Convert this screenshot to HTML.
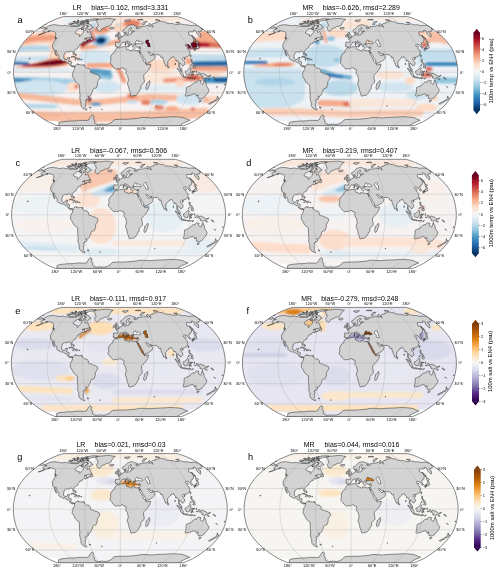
<!DOCTYPE html>
<html><head><meta charset="utf-8"><style>
html,body{margin:0;padding:0;background:#fff;width:500px;height:573px;overflow:hidden}
svg{display:block;will-change:transform}
text{font-family:"Liberation Sans",sans-serif;fill:#000}
.tk{font-size:3.9px}
.tt{font-size:6.95px}
.lt{font-size:9.2px}
.cl{font-size:5.9px}
</style></head><body>
<svg width="500" height="573" viewBox="0 0 500 573">
<defs>
<filter id="bl" x="-20%" y="-20%" width="140%" height="140%"><feGaussianBlur stdDeviation="1.3"/></filter>
<path id="bnd" d="M-63.3 53.5L-66.5 52.2L-72 49.7L-76.9 46.9L-81.3 43.9L-85.5 40.8L-89.3 37.6L-92.9 34.3L-95.9 31L-98.6 27.6L-100.9 24.1L-102.7 20.7L-104.1 17.2L-105.1 13.8L-105.9 10.3L-106.5 6.9L-106.9 3.4L-107 0L-106.9 -3.4L-106.5 -6.9L-105.9 -10.3L-105.1 -13.8L-104.1 -17.2L-102.7 -20.7L-100.9 -24.1L-98.6 -27.6L-95.9 -31L-92.9 -34.3L-89.3 -37.6L-85.5 -40.8L-81.3 -43.9L-76.9 -46.9L-72 -49.7L-66.5 -52.2L-63.9 -53.3L-61.2 -54.3L-59.1 -54.9L-56.9 -55.6L56.9 -55.6L59.1 -54.9L61.2 -54.3L63.9 -53.3L66.5 -52.2L72 -49.7L76.9 -46.9L81.3 -43.9L85.5 -40.8L89.3 -37.6L92.9 -34.3L95.9 -31L98.6 -27.6L100.9 -24.1L102.7 -20.7L104.1 -17.2L105.1 -13.8L105.9 -10.3L106.5 -6.9L106.9 -3.4L107 0L106.9 3.4L106.5 6.9L105.9 10.3L105.1 13.8L104.1 17.2L102.7 20.7L100.9 24.1L98.6 27.6L95.9 31L92.9 34.3L89.3 37.6L85.5 40.8L81.3 43.9L76.9 46.9L72 49.7L66.5 52.2L63.3 53.5Z"/>
<clipPath id="clp"><use href="#bnd"/></clipPath>
<path id="land" d="M-61.8 54.1L-61.6 50.6L-58.6 49.6L-51.6 48.9L-43.6 48.6L-41.6 48.1L-33.6 48.3L-31.6 47.6L-30.6 45.6L-29.1 43.4L-27.6 43L-26.4 44.1L-27.4 46.1L-26.1 48.1L-25.6 51.1L-22.6 52.4L-18.6 51.9L-14.6 52.3L-11.6 51.6L-8.6 50.1L-6.8 47.9L-5.6 47.4L0 47.1L6.4 47.1L11.4 46.7L16.4 46.3L21.4 45.3L26.4 45.4L31.4 45.8L36.4 45.3L41.4 45.1L46.4 44.9L51.4 44.5L56.4 44.7L61.4 45.1L64.4 45.9L66.4 46.9L69.4 48.1L63.4 50.6L57.9 54.1ZM-75.4 -44.3L-71.8 -46.2L-69.4 -47.1L-67.6 -47.3L-65.9 -47.6L-64.3 -47.3L-63.1 -47.1L-61.9 -47L-60.5 -46.7L-58.8 -46.3L-57.1 -46.6L-55.1 -46.9L-53.7 -46.6L-51.8 -46.3L-50 -46L-48.1 -45.7L-46.2 -45.9L-44.7 -45.6L-42.9 -45.6L-41.2 -46.6L-39.3 -48L-39.1 -47.2L-38.5 -46.3L-37.4 -46L-36.1 -46.6L-35.6 -46L-36 -45.1L-37.9 -44.7L-39.5 -43.6L-41.1 -43.3L-43.3 -42.1L-45.3 -40.2L-44.9 -38.9L-43.3 -38.3L-42.1 -37.8L-40.9 -37.6L-41.3 -36.3L-40.8 -35.3L-39.8 -36.3L-39.2 -37.6L-37.2 -39.6L-36.8 -41.2L-35.9 -42.4L-33.9 -42.2L-32.9 -41.5L-33.2 -39.9L-32.2 -39.9L-30.8 -41L-30.1 -39.2L-29.7 -38L-28.9 -36.6L-28.6 -35.3L-29.7 -35.1L-30.9 -34.5L-33 -34.5L-34.7 -34L-36.3 -33L-34.3 -33.7L-33.5 -33.5L-34.1 -32.7L-33.8 -31.8L-32.4 -31.4L-31.8 -31.6L-31.8 -32.3L-32.6 -31.6L-33.4 -31.4L-34.3 -31.2L-33.9 -30.7L-35.3 -30L-35.3 -30.6L-35.8 -30.8L-37.5 -30.2L-38.2 -29.3L-38 -28.7L-38.9 -28.5L-40.4 -28L-40.6 -27.2L-41.3 -26.7L-42.2 -25.5L-42.3 -24.3L-43.5 -23.6L-44.6 -22.9L-46 -21.7L-46.4 -20.7L-46.2 -19.3L-46.1 -18.3L-46.5 -17.4L-47.2 -17.9L-47.4 -19.3L-47.6 -20.3L-48.2 -20.7L-49 -21L-50.1 -21L-51 -20.8L-51.2 -20L-52 -20.2L-53.4 -20.5L-54.3 -20.1L-55.7 -19.2L-56.2 -17.9L-56.7 -16.5L-56.7 -15.2L-56.7 -14.1L-56.1 -13.1L-55.3 -12.5L-53.8 -12.8L-53.2 -13.1L-52.7 -14.5L-50.7 -14.8L-51.2 -13.1L-51.8 -12.1L-52 -11L-50.5 -10.9L-49 -10.3L-49.3 -8.3L-49.5 -7.6L-48.6 -6.2L-47.4 -6.4L-45.9 -5.9L-45.8 -5.4L-46.3 -5.2L-46.5 -5.7L-47.1 -6.1L-47.7 -5L-48.6 -5.7L-50 -6.5L-50.7 -6.9L-50.7 -7.7L-51.6 -9L-52.5 -9.3L-53.9 -9.7L-54.7 -10.7L-55.5 -11.2L-56.7 -10.8L-57.6 -11.2L-58.7 -11.7L-59.5 -12.3L-60.6 -12.6L-61.6 -13.8L-61.3 -14.8L-61.5 -15.9L-62.4 -17.4L-63.1 -18.3L-63.7 -19.3L-64 -21.7L-65.1 -21.9L-65.2 -20L-64.5 -18.3L-63.7 -16.5L-63.6 -15.9L-64.1 -16.4L-64.8 -17.1L-65.3 -18.5L-65.7 -19.3L-65.7 -20.7L-66.1 -21.9L-66.2 -22.4L-66.6 -23.4L-67.7 -23.8L-67.9 -25.2L-67.8 -26.1L-68 -27.2L-67.9 -27.9L-67.3 -28.9L-66.4 -30.3L-65.6 -31.8L-65 -33.3L-64.1 -33.3L-63.9 -33.7L-64.2 -34.7L-65.3 -35L-64.8 -36L-65 -37L-64.7 -38L-64.7 -38.6L-65 -39.6L-65.7 -39.9L-66.4 -40.7L-67.9 -40.8L-68.8 -41.3L-70.2 -41.1L-71.5 -40.5L-72.6 -40.3L-70.6 -41.6L-72.6 -40.8L-73.9 -40.1L-75.7 -39.2L-77.9 -38.4L-80.4 -37.6L-82.2 -37.2L-80 -38L-77.2 -39.2L-75.7 -40L-76.8 -40.1L-77 -40.8L-77.5 -41.3L-76.7 -42.4L-75.6 -42.9L-73.2 -43.5L-74.4 -43.7L-75.5 -43.7L-75.4 -44.3ZM-45.8 -5.4L-45.6 -5.9L-44.6 -7.2L-43.7 -7.7L-42.5 -8.5L-42.1 -8.1L-42.3 -7.2L-41.4 -7.9L-40.2 -7.3L-39 -7.3L-37.8 -7.4L-36.7 -7.4L-36.1 -6.9L-36.4 -6.2L-35.5 -5.9L-34.7 -4.8L-33.8 -4.1L-32.6 -4.1L-31.4 -3.9L-30.6 -3L-29.7 -1.2L-30 0L-28.8 0.7L-27.3 0.7L-26.1 1.7L-24.6 2L-23.2 2.4L-22.1 3.3L-21.1 3.6L-20.7 4.8L-20.7 6.2L-21.3 6.9L-22.1 8.3L-22.9 9.3L-22.9 11L-23.1 12.4L-23.6 14.1L-24.3 15.7L-25 15.9L-25.8 16.1L-26.9 16.5L-27.7 17.6L-27.8 19.3L-28.3 20L-29 21.4L-29.6 22.8L-30.1 23.4L-30.8 24.1L-31.9 24.1L-32.7 23.8L-31.7 25.2L-31.8 26.2L-32.5 26.7L-34.1 26.9L-34 27.9L-35.4 28.2L-34.6 29.3L-34.6 31L-35.6 32L-34.6 32.7L-35.2 34.7L-35.1 35.7L-34.5 36.3L-33.4 37.3L-33.9 38L-34.7 37.6L-36 37L-37.7 36L-39 34.3L-39.5 32.3L-39.4 31L-39.6 29.6L-40.1 28.9L-40.4 27.2L-40.8 25.5L-40.5 24.5L-40.4 22.8L-40.8 20.7L-40.8 19L-40.9 16.5L-41 13.8L-41.2 12.6L-42.2 11.9L-43.5 11L-44.9 9.7L-45.5 8.3L-46.5 6.5L-47.4 4.8L-48.2 4.1L-48.1 3.1L-47.7 2.3L-48.1 1.4L-47.7 0.3L-47.5 -0.7L-46.9 -1L-46.8 -1.7L-46 -2.8L-45.8 -4.5L-46.2 -5.2L-45.8 -5.4ZM-3.3 -24.7L-1.1 -24.2L0.6 -25.2L2.8 -25.4L5.4 -25.7L6.1 -25.5L5.7 -24.8L6.2 -24.5L5.6 -23.6L6.4 -22.9L8.5 -22.3L10.8 -20.9L11.4 -21.4L11.4 -22.3L12.4 -22.6L14.2 -21.9L16.5 -21.3L17.6 -21.7L18.4 -21.5L18.6 -20.6L19.2 -19L20.3 -16.5L21.6 -14.5L22.6 -12.4L23.2 -10.7L24.5 -9.3L25.6 -8.6L26 -7.2L26.6 -7.2L28.4 -7.7L30.2 -8.1L30.2 -7.2L29.4 -4.5L28.5 -3.1L27.3 -1.4L25.9 0.3L24.7 1.4L23.8 2.4L23.2 3.4L23.3 4.8L23.4 6.9L23.9 7.6L23.8 10.3L21.7 12.1L20.4 13.8L20.6 15.2L20.6 16.5L19.1 17.6L18.9 18.6L18.3 20L17.3 21.4L15.8 22.8L14.3 23.4L12.7 23.4L11.2 24L10.4 23.6L10.2 22.4L9.7 20.3L8.9 18.6L8.4 15.9L7.9 14.1L6.9 11.7L7.4 9.7L8 7.9L7.7 6.2L7.2 4.1L7.1 3.1L5.9 2.1L5.3 0.7L5.6 -0.7L5.8 -2.1L5.2 -3L4.2 -3L3.6 -3L2.7 -4.3L1.2 -4.3L-0.6 -3.4L-1.2 -3.3L-2.7 -3.6L-4.5 -3L-5.6 -3.8L-6.8 -4.8L-7.7 -5.7L-8 -6.5L-8.9 -7.6L-9.9 -8.6L-10.3 -10.1L-9.7 -11.4L-9.5 -13.1L-9.9 -14.5L-9.3 -16.2L-8.4 -17.9L-7.5 -19.1L-5.7 -20L-5.6 -21L-5.3 -22.4L-3.9 -23.4L-3.3 -24.7ZM-3.1 -24.8L-3.5 -25.4L-4.2 -25.6L-4.9 -25.5L-4.8 -26.7L-5.2 -26.7L-4.9 -28.2L-4.8 -29.3L-5 -29.7L-4.3 -30.1L-2.2 -29.9L-0.8 -29.9L-0.6 -30.6L-0.6 -31.6L-1.3 -32.5L-2.4 -33L-1.6 -33.5L-0.8 -33.5L-0.7 -34.1L0.1 -34L0.8 -34.9L1.5 -35.2L2 -35.6L2.4 -36.3L3.5 -36.6L4.3 -37L4.3 -38L4 -38.6L4.1 -39L5.1 -39.4L5.1 -38.6L5 -37.6L5.5 -37L6.5 -37.1L7.3 -36.9L8.2 -37.3L9.2 -37.4L10 -37.3L10.5 -38L10.3 -38.8L10.7 -39.3L11.8 -39.1L11.3 -39.9L11.5 -40.4L13.4 -40.5L14.2 -40.8L13.5 -41.2L12.3 -41.1L10.9 -40.8L10.1 -41.5L9.9 -42.4L10.7 -43.3L11.4 -43.9L11.4 -44.3L9.9 -44.4L9.7 -44.1L8.9 -43L8.1 -42.4L8.1 -41.5L8.9 -40.8L8.2 -40L8.1 -38.6L7.2 -38L6.4 -38L6.2 -38.5L5.6 -39.6L5.3 -40.2L4.8 -40.2L3.9 -39.6L2.9 -39.8L2.5 -40.5L2.4 -41.5L2.4 -42.3L3.2 -42.7L4.3 -43.2L5 -43.8L5.6 -44.5L6.2 -45.4L7 -46L7.7 -46.6L9 -46.9L10.1 -47.3L11 -47.5L12 -47.5L13.2 -47.1L14.2 -46.5L15.6 -46.3L17.5 -45.6L18.3 -44.8L17 -44.5L15.5 -44.9L15.8 -43.6L16.9 -43.3L18.1 -43.7L19.7 -44.5L19.4 -45.8L20.1 -45.7L21 -45.6L23 -46L23.8 -45.8L25.1 -46.2L25.9 -46.8L27.6 -46.5L29.1 -46L29.9 -45.8L28.8 -46.6L28.2 -47.3L28.3 -48.3L28.7 -48.7L30 -48.3L30.6 -47.5L31.5 -46L32.7 -44.8L32.6 -45.7L31.8 -46.3L31.2 -47.5L31.9 -48L32.6 -48.2L32.9 -48.8L33.9 -48.8L35.1 -49.1L34.8 -49.7L35.7 -49.9L37 -50.2L38.4 -50.3L38.8 -50.7L39.9 -51.1L41.5 -50.7L41.8 -50.3L43.3 -50.5L44.9 -50.1L45.8 -49.1L48.2 -48.8L50.1 -48.6L51.6 -48.8L53.4 -48.3L55 -47.5L56.2 -47.7L58.3 -47.7L58.1 -48.5L60.6 -48.2L62.9 -47.7L64.5 -47.3L66.6 -47.5L67.9 -47.2L69.7 -46.7L71.7 -46.7L72.6 -46.9L74 -46.8L75.4 -46.8L77.9 -46.2L81.2 -44L80.3 -43.7L82.3 -42.7L81.5 -42.4L80.9 -41.8L80.7 -40.8L78.8 -40.8L77.8 -40.7L78.3 -39.6L80.2 -38.3L79.8 -38.4L80.2 -37.6L80.7 -36.3L80.2 -36L80.2 -35L78.7 -36.3L76.5 -38.3L76 -39.2L76 -39.9L75.6 -41.2L74.4 -41.8L72.9 -41.8L73.4 -40.5L72.2 -40.3L70.7 -40.4L68.3 -40.4L68 -39.4L68.5 -37.3L70.6 -36.6L71.8 -35.7L72.5 -34.3L73.3 -33L73.1 -32L72.9 -30.3L71.7 -29.5L70.8 -29.3L70.6 -28.2L70.9 -27.6L70.4 -26.9L71.9 -25.5L72.4 -24.3L71.3 -23.9L70.8 -24.1L70.3 -25.5L69.4 -26.2L68.5 -27.4L66.7 -27.9L66 -28.2L65.5 -27.4L64.9 -26.9L65 -26.4L66 -25.6L66.8 -26.1L68 -25.5L67.2 -24.8L66.8 -24.1L68 -22.8L69.1 -21.9L69.4 -21.2L69.4 -20.3L69.7 -19.5L69.1 -18.3L68.8 -17.2L67.9 -16.2L66.6 -15.4L65.2 -15L64.4 -14.6L64.2 -14L63.9 -14.8L62.9 -14.8L62.1 -14L61.9 -13.1L62.8 -11.7L64 -10.5L64.5 -8.6L64.4 -7.8L63.3 -7.2L62.3 -5.9L62 -6.9L60.9 -7.4L60.2 -8.5L59.5 -9.3L58.7 -7.2L59.1 -6.2L59.6 -5L60.2 -4.7L60.8 -4.1L61.4 -3.1L61.5 -1.7L61.9 -1L61.5 -0.9L60 -1.9L59.5 -3.8L58.2 -5.5L58.3 -6.9L58.2 -9L57.3 -11.4L56.6 -11.7L55.5 -11L55.2 -12.8L54.3 -13.7L53.6 -14.8L53.2 -15.7L52.6 -15.2L51.8 -15L50.7 -14.8L50.6 -14L49.7 -13.4L48.4 -11.7L47.2 -10.7L47.3 -9L47.2 -7.1L46.4 -6.1L45.9 -5.6L45.3 -6.1L44.6 -7.9L43.9 -9.7L43.2 -11L42.6 -13.1L42.4 -14.5L42.2 -15L41.1 -14.3L40.1 -15.4L40.7 -15.7L39.7 -16.2L38.8 -17.1L38.4 -17.5L35.8 -17.4L33.8 -17.6L33.1 -17.8L32.4 -18.8L31.1 -18.4L29.6 -19.2L28.9 -20.3L27.7 -20.7L27.5 -20L28.5 -18.6L28.9 -18.1L29.8 -16.8L30.4 -16.7L31.6 -16.8L32.3 -17.6L32.5 -18.1L32.7 -16.9L33.9 -16.3L34.8 -15.5L34.1 -14.1L33.8 -13.1L33.1 -12.4L32.3 -11.7L30.7 -10.8L28.9 -9.7L26.8 -9L25.7 -8.8L25.2 -10L25 -11.4L24 -13.1L22.7 -14.8L22.3 -16.4L21.1 -17.9L20.2 -19.3L19.9 -20.3L19.7 -19.2L19.2 -19.6L18.6 -20.6L18.4 -21.5L19.4 -21.6L19.7 -22.4L20 -23.4L20.1 -24.5L20 -25.4L19.2 -25.4L18.1 -24.9L17 -25L15.7 -25.4L15.1 -25.8L14.6 -26.5L14.4 -27.2L14.6 -27.8L15.8 -28.3L14.2 -28.1L13.1 -28.1L12.6 -27.8L12.4 -27.6L12.8 -26.9L13.3 -26.3L12.8 -25.8L12.5 -25.1L12.1 -25.4L11.7 -26.1L11.9 -26.5L11.1 -27.2L10.6 -27.9L10.6 -28.8L10 -29.3L8.6 -30L8 -30.6L7.3 -31.3L6.5 -31.2L6.6 -30.4L7.3 -30L7.8 -29.1L8.7 -28.5L10.1 -27.7L9.4 -27.9L9.1 -27.4L9.4 -26.9L8.8 -26.2L8.6 -26.3L8.8 -27.2L8.5 -27.6L7.6 -28.1L6.8 -28.6L5.9 -29.3L5.5 -30.2L4.7 -30.6L4 -30.2L3.2 -29.7L2.4 -30L1.6 -29.6L1.7 -28.9L1.1 -28.4L0.4 -28L0 -27.2L-0.2 -26.5L-0.4 -25.9L-1.1 -25.3L-2.5 -25.3L-3.1 -24.8ZM-77.9 -46.2L-76.9 -45.4L-76.1 -45.1L-75.8 -44.7L-77 -44.2L-78.3 -43.6L-79.5 -43.9L-80.2 -44.2L-81.2 -44ZM-24.8 -51.7L-22.9 -52.6L-20.7 -53L-19.2 -53.1L-17.7 -53.3L-16.5 -53.4L-15.2 -53.5L-14 -53.7L-12.8 -53.7L-11.6 -53.7L-10.5 -53.7L-9.4 -53.5L-8.3 -53.3L-7.2 -53L-6.1 -52.9L-5 -52.8L-6.8 -51.7L-7.4 -50.7L-8 -49.7L-9.1 -48.3L-9.3 -47.2L-11.3 -46L-12.6 -45.9L-14 -45.7L-15.6 -44.5L-18.1 -43.9L-19.5 -42.1L-20.7 -40.8L-22.1 -41.3L-23.2 -42.4L-23.4 -43.6L-23.8 -44.8L-23 -46L-21.8 -46.9L-22.8 -47.5L-22.8 -48.3L-23 -49.4L-23.6 -50.2L-24.3 -50.9L-24.8 -51.7ZM66 15.2L65.8 17.9L65.6 20.7L64.7 23.4L65.6 24.1L67.4 23.4L69.5 23.4L71.3 22.3L73.2 21.8L74.4 21.7L75.7 22.5L76 24L76.4 23.8L77.8 22.6L77.2 24.1L77.9 24.7L77.7 26.2L79 26.7L80.1 26.4L80.6 26.9L81.9 26.1L83.1 25.8L84.7 23.8L85.5 22.8L87 21.4L88.1 19.3L88.5 17.2L87.6 16.2L87 15.2L85.9 13.3L85.7 11.7L85.6 10.3L84.5 9.7L84.3 7.4L83.6 8.6L83.3 10.3L82.5 12.1L81.8 12.1L80.8 11L79.7 10.3L80.7 8.5L79.7 8.3L78.3 7.9L77.3 8.4L76.7 9L76.2 10.3L75.1 9.7L73.9 10L72.8 11.4L71.8 12.1L71.1 13.1L69.5 13.8L67.9 14.3L66.6 15L66 15.2ZM-10.8 -44.2L-9.8 -44.8L-8 -44.7L-6.7 -44.8L-6.1 -44.1L-6.6 -43.6L-8.3 -42.9L-9.6 -43.2L-10.3 -43.3L-10.8 -44.2ZM-31.1 -32.7L-29 -34L-28.3 -35.4L-27.7 -34L-27.6 -32.7L-28.2 -32.1L-29.2 -32.3L-31.1 -32.7ZM-49.5 -15.1L-48.2 -15.8L-46.4 -15.9L-44.8 -14.9L-43.2 -13.9L-45.3 -13.7L-45.7 -14.8L-47.1 -15L-47.7 -15.4L-48.9 -15ZM-43.6 -12.7L-42.5 -13.7L-40.9 -13.6L-40 -12.8L-41 -12.5L-41.9 -12.1L-43.6 -12.7ZM-45.8 -12.7L-44.7 -12.5L-45 -12.3L-45.7 -12.5ZM-39.3 -12.8L-38.4 -12.7L-38.5 -12.4L-39.4 -12.4ZM-64.3 -33.2L-65 -33.5L-65.8 -34.9L-65.2 -34.8L-64.5 -34.3L-64.3 -33.2ZM-32.8 -49L-31.9 -48.3L-30.9 -47.9L-29.7 -47.2L-29 -46.9L-28.9 -46.3L-28.3 -45.1L-27.2 -44.9L-28.7 -43.9L-29.5 -43.6L-29.7 -42.8L-30.5 -42.1L-31.4 -42.6L-32.6 -43L-33.6 -43.7L-35.2 -43.5L-35 -44.2L-32.1 -45.4L-32.1 -45.7L-32.2 -46.6L-33.3 -46.9L-35 -46.9L-36.1 -47.2L-37.4 -47.3L-37.3 -48L-35.1 -48.8L-33.3 -49ZM-43.1 -47.2L-44.9 -46.3L-46.8 -46.2L-48 -46.3L-49.1 -46.4L-50.1 -47.2L-49.9 -47.7L-48.2 -48.5L-46.4 -48.6L-45.1 -48.7L-43.7 -48.8L-42.9 -48.6L-42.5 -48ZM-50.3 -47.7L-52 -47.9L-50.9 -49.1L-48.8 -49.3L-47.2 -48.8L-48.6 -48.1ZM-34.4 -51.2L-32.6 -52.4L-31.1 -52.7L-29.7 -53.1L-28.2 -53.4L-27 -53.4L-25.8 -53.4L-24.6 -53.5L-23.3 -53.3L-22 -53.2L-23.3 -52.6L-24.6 -52.3L-26.1 -52L-28.4 -51.5L-31.3 -50.4L-33.2 -50.4ZM-32.2 -49.5L-33.4 -49.5L-34.6 -49.5L-35.8 -49.5L-37 -49.5L-38.1 -49.9L-36.5 -50.7L-35.3 -50.7L-34.1 -50.7L-33 -50.7L-31.6 -50.3ZM-37.5 -48L-39.6 -48L-38.8 -49L-36.6 -49.1ZM-40.2 -47.7L-42.1 -48L-41.2 -48.8L-39.4 -49ZM-42 -49.7L-43.8 -49.5L-45.5 -49.4L-46.7 -49.8L-45 -50.4L-43.6 -50.4L-42.2 -50.4ZM-33.6 -51.2L-34.6 -51.5L-35.7 -51.7L-35.2 -52.4L-33.1 -52.6L-31.8 -52.2ZM-42.6 -46L-41.2 -46.6L-41.7 -46.8L-43 -46.3ZM-38.5 -49.9L-39.9 -50.1L-38.9 -50.6L-37.9 -50.5ZM-37.3 -49.6L-38.5 -49.6L-37.7 -50L-37.1 -49.9ZM-32.1 -48.6L-33.2 -48.7L-32.5 -49L-31.4 -48.9ZM-45.2 -50.3L-47.3 -50.2L-47.7 -50.6L-45.4 -51ZM-38 -42.4L-38.8 -42.6L-38.1 -42.9ZM-43.5 -51L-41.4 -51.1L-41.8 -51.4ZM-42.5 -51.4L-41.5 -51.6L-42.9 -51.7ZM-39.2 -51.3L-37.9 -51.5L-37.8 -51.8ZM-37.1 -51.2L-36.3 -51.3L-36.3 -51.7ZM-36.7 -50.9L-36.1 -51L-36.8 -51.1ZM-42 -49.7L-41.4 -49.8L-41.6 -50ZM-40.3 -49L-39.7 -49.1L-40.3 -49.2ZM-33.9 -46.6L-33.4 -46.8L-34 -46.9ZM-33.4 -45.4L-32.4 -45.6L-32.7 -45.8ZM-37.2 -42.1L-36.7 -42.2L-37.1 -42.4ZM-43 -48.7L-42.4 -48.9L-43 -48.9ZM-40.2 -50.2L-40.8 -50.3L-40.2 -50.5ZM-40.6 -50.8L-40 -51L-40.7 -51ZM-36.7 -43L-39.1 -42.8L-39.5 -43.6L-38.1 -44.4L-36.8 -43.6ZM-2.9 -34.4L-1.5 -34.7L0 -34.9L0.7 -35.2L0.9 -36.1L0.2 -36.6L-0.2 -37.3L-0.8 -38L-1.2 -38.5L-0.9 -39.3L-1.7 -39.4L-1.4 -39.9L-2.4 -39.9L-2.7 -38.9L-2.9 -38.6L-2.7 -38L-2.5 -37.5L-1.6 -37.6L-1.5 -36.8L-1.5 -36.5L-2.3 -36.4L-2.1 -36L-2.6 -35.5L-1.8 -35.3L-2.1 -35.1L-2.9 -34.4ZM-3 -35.8L-3.1 -37L-2.8 -37.5L-3.6 -37.8L-4.2 -37.6L-4.2 -37.2L-5 -37.1L-4.9 -36.6L-4.8 -36.1L-5.2 -35.6L-4.8 -35.3L-4.1 -35.5L-3.2 -35.8ZM73.6 -23.4L74.3 -23.4L75 -23.6L75.8 -23.9L76.3 -23.1L76.9 -23.6L77.9 -23.9L78.3 -24.1L78.7 -24.6L78.2 -25.4L78.1 -26.4L78 -27.2L76.9 -28.5L76.4 -28.1L76.7 -27.4L76.9 -26.5L76.7 -25.8L76.1 -25.5L75.7 -25.6L75.9 -24.7L74.4 -24.5L73.8 -23.9ZM76.1 -28.6L76.5 -28.8L77.6 -28.9L78.3 -29.7L77.7 -30.3L75.4 -31.3L75.8 -30.3L75.5 -29.7ZM73.2 -22.9L73.7 -23.4L74.4 -22.8L74.6 -21.6L74.3 -21.4L73.6 -22.4ZM74.7 -22.9L75 -23.6L75.7 -23.6L75.8 -23.1L75.1 -22.6ZM75.2 -31.6L75.7 -32L74.3 -33.7L75 -33.7L73.3 -35L71.8 -36.6L71.2 -37.2L71.4 -36.6L72.3 -35.3L74.2 -33L74.8 -32ZM69.7 -15.9L69.9 -17.4L70.6 -17.2L70.5 -15.9L70.3 -15.1ZM63.5 -13.2L64.5 -13.9L64.9 -13.5L64.4 -12.6L63.6 -12.8ZM70.6 -12.8L71.5 -12.8L71.6 -11.4L71.4 -10.7L71.9 -9.7L73.1 -9L72.9 -8.7L71.3 -9.5L71 -10L70.5 -11.2ZM72.3 -4.8L73.2 -5.4L73.7 -5.9L74.3 -6.7L75 -5.2L74.7 -4.1L74.2 -4L73.5 -4.5ZM72.1 -7.2L73 -7.9L73.8 -8.5L74.3 -7.6L73.7 -6.9L72.8 -6.5ZM69.4 -5.8L70.7 -7.2L70.8 -7.8L70.1 -6.5ZM56.5 -3.9L57.9 -3.6L59.4 -1.7L61.7 0L62.1 1L63 2.1L62.8 4L62 4.1L60.6 2.8L59.7 0.7L58.5 -1.2ZM62.4 4.7L62.9 4.1L64.3 4.4L65.5 4.8L66.7 4.8L67.9 5.3L67.7 6L65.8 5.7L64 5.4L63.1 5.1ZM64.8 -1L65.2 -1.4L66 -1.2L67.1 -2.2L68.5 -3.7L69.4 -4.8L70.7 -3.7L70.1 -3L70.4 -0.7L69.8 0L69.2 1.7L68.9 2.6L68 2.8L66.2 2.3L65.5 2L65.4 1L64.8 0.3ZM70.9 3.8L71.4 3.8L71.6 2.1L71.9 1.8L72.7 3.3L73 3.1L72.5 2.1L72.2 1.2L73.2 0.6L72.2 0.6L71.6 -0.3L74 -0.3L74.4 -1L73.9 -0.8L71.6 -0.8L71.2 0L70.7 2.1ZM75.8 -1.2L76.4 -1L76.1 -0.3L76.4 0.6L75.8 0.2ZM76 2.3L77.7 2.4L77.2 2.6L76.2 2.6ZM77.8 0.9L78.8 0.3L79.6 0.6L80.5 2.3L81.7 1L83.8 1.8L85.8 2.6L86.6 3.8L87.5 4.1L87.6 5.5L88.5 6.5L89 7.2L87.6 7L86.7 6.2L85.3 5.4L84.7 6.2L83.5 6.3L82.4 5.5L81.7 5.8L81.8 3.8L80.2 3L79 2.8L78.4 1.9ZM88 3.8L89 3.6L90 2.9L90.4 3L89.9 3.8L89 4.3L88.1 4.1ZM92.8 4.8L94.5 5.9L95.6 6.9L94.9 7.1L93 5.9ZM73.4 6.4L74 5.9L75.2 5.8L74 6.6L73.4 7ZM68.3 5.8L69 5.7L70.5 5.8L71.7 5.8L72.7 5.7L72.5 6.1L70.5 6.1L68.7 6.1ZM47.4 -4.3L47.3 -5.5L47.3 -6.8L48.1 -5.9L48.6 -4.8L48.1 -4.1ZM29.1 8.3L29.7 10.7L29.2 11.7L28.3 14.1L27.5 16.5L26 17.6L25.3 16.2L25.4 14.5L26 13.4L25.8 11.7L27.3 10.8L28.3 9.3ZM79 28L80.8 28.2L80.1 29.3L78.9 30L78.6 29.3ZM97 23.7L97.3 24.8L97.5 25.8L98.8 26L97.6 27.1L96.4 27.9L95.1 28.6L95.7 27.4L95.6 27L96.7 25.8ZM94.4 27.9L94.8 28.5L93.5 29.6L92.6 30.2L91.4 30.6L89.4 32.1L88.1 31.6L89 31L90.3 30.3L91.9 29.6L93.4 28.6ZM95.7 13.9L97.1 15.4L96.8 15.4L95.7 14.3ZM103.9 12.1L104.7 11.9L104.5 12.5L103.8 12.5ZM4.1 -51.6L5.2 -52.1L7 -52.2L8.4 -52.4L10 -52.2L9.1 -51.5L8.5 -51L7 -50.5L5.8 -50.8ZM21.8 -47.7L22 -48.6L22.4 -49.4L23.3 -50.1L24.9 -50.6L26.6 -50.7L26 -50.1L24.6 -49.4L23.9 -48.5L23.8 -47.5L23.3 -47.2ZM35.7 -51.7L37.2 -52L39.4 -51.7L36.3 -52.6L34.8 -52.4ZM55.2 -49.7L56.4 -49.9L57.7 -49.9L59 -49.8L58.1 -49.5L57.2 -49.1ZM-75.7 -47.5L-74.4 -47.7L-75.1 -47.8ZM16.9 -52.4L18 -52.4L19.2 -52.3L20.3 -52.2L21.5 -52.3L22.7 -52.4L20.9 -52.8L19.5 -52.7L18.2 -52.6ZM6.9 -26.2L8.6 -26.4L8.4 -25.3L6.9 -25.9ZM4.6 -26.9L4.5 -28.2L5.2 -28.4L5.3 -27ZM4.7 -28.6L4.6 -29.5L5.1 -29.6L5.2 -28.6ZM13.2 -24.3L14.7 -24.3L14.6 -24.1L13.4 -24.1ZM18.1 -24.1L19.3 -24.6L19.1 -23.9L18.2 -23.9ZM-91 -14.1L-90.4 -14L-90.6 -13.1L-91.2 -13.4ZM-31.3 35.1L-29.6 35.2L-29.7 35.8L-31 35.7ZM-19 37L-18 37L-18.2 37.3ZM35.9 33.5L36.6 33.7L35.9 34.1ZM54.6 -7.9L54.8 -9.1L54.9 -8.3L54.9 -7.3ZM-45.2 -18.4L-44.4 -18.3L-44 -16.9L-45.1 -16.5ZM-36.6 -7L-36.1 -7.4L-36 -7Z"/>
<path id="bsea" d="M15.2 -28.6L15.9 -28.4L17.1 -28.4L18.2 -28.9L19.3 -28.7L20.4 -28.2L21.5 -28.2L22.5 -28.6L22.6 -29.3L21.5 -30L20.3 -30.6L19.9 -31.2L19.4 -31.1L18.9 -30.8L17.9 -30.6L17.3 -31.2L17.8 -31.6L16.6 -32.1L16.1 -31.8L15.7 -31.1L15.4 -30.5L15.1 -29.6L15.2 -28.6Z"/>
<path id="casp" d="M25.1 -30.6L25.2 -29.6L25.7 -28.9L26.8 -27.9L27.1 -27.7L27 -26.5L27.2 -25.8L28 -25.5L29.9 -25.5L29.4 -26.9L29 -27.9L29.7 -28.2L28.6 -28.9L28.3 -29.6L27.5 -30.6L28.2 -31.1L28 -32.1L26.8 -32.3L26 -32L25.2 -31.4L25.1 -30.6Z"/>
<path id="nod" d="M57.9 54.6L69.4 48.1L72.4 46.6L81.4 46.6L81.4 55.1ZM-61.8 54.6L-61.6 50.6L-64.6 48.9L-78.6 48.9L-78.6 55.1ZM-54.7 -46.9L-53.6 -46.6L-52.4 -46.3L-51.3 -46L-50.1 -45.9L-48.8 -45.8L-47.6 -45.7L-46.4 -45.6L-45.2 -45.5L-43.9 -45.4L-42.6 -45.5L-41.2 -45.5L-39.9 -45.6L-38.5 -45.7L-37.1 -45.7L-34.2 -46.9L-31.2 -48L-28 -49.7L-27.5 -51.2L-25.7 -51.7L-24 -52.2L-22 -53.3L-23.1 -53.3L-24.2 -53.3L-25.2 -53.3L-26.3 -53.3L-27.4 -53.4L-28.5 -53.4L-29.5 -53.4L-30.6 -53.4L-31.7 -53.5L-33 -53.3L-34.4 -53L-35.8 -52.8L-37.3 -52.6L-38.7 -52.4L-40.2 -52.2L-41.7 -52L-43.2 -51.7L-44.9 -51.4L-46.7 -51L-48.5 -50.7L-51.9 -49.1Z"/>
<path id="grd" d="M-38 55.6L-40.8 54.3L-44.3 52.2L-48 49.7L-51.3 46.9L-54.2 43.9L-57 40.8L-59.6 37.6L-61.9 34.3L-63.9 31L-65.7 27.6L-67.2 24.1L-68.5 20.7L-69.4 17.2L-70.1 13.8L-70.6 10.3L-71 6.9L-71.2 3.4L-71.3 0L-71.2 -3.4L-71 -6.9L-70.6 -10.3L-70.1 -13.8L-69.4 -17.2L-68.5 -20.7L-67.2 -24.1L-65.7 -27.6L-63.9 -31L-61.9 -34.3L-59.6 -37.6L-57 -40.8L-54.2 -43.9L-51.3 -46.9L-48 -49.7L-44.3 -52.2L-40.8 -54.3L-38 -55.6M-19 55.6L-20.4 54.3L-22.2 52.2L-24 49.7L-25.6 46.9L-27.1 43.9L-28.5 40.8L-29.8 37.6L-31 34.3L-32 31L-32.9 27.6L-33.6 24.1L-34.2 20.7L-34.7 17.2L-35 13.8L-35.3 10.3L-35.5 6.9L-35.6 3.4L-35.7 0L-35.6 -3.4L-35.5 -6.9L-35.3 -10.3L-35 -13.8L-34.7 -17.2L-34.2 -20.7L-33.6 -24.1L-32.9 -27.6L-32 -31L-31 -34.3L-29.8 -37.6L-28.5 -40.8L-27.1 -43.9L-25.6 -46.9L-24 -49.7L-22.2 -52.2L-20.4 -54.3L-19 -55.6M0 55.6L0 54.3L0 52.2L0 49.7L0 46.9L0 43.9L0 40.8L0 37.6L0 34.3L0 31L0 27.6L0 24.1L0 20.7L0 17.2L0 13.8L0 10.3L0 6.9L0 3.4L0 0L0 -3.4L0 -6.9L0 -10.3L0 -13.8L0 -17.2L0 -20.7L0 -24.1L0 -27.6L0 -31L0 -34.3L0 -37.6L0 -40.8L0 -43.9L0 -46.9L0 -49.7L0 -52.2L0 -54.3L0 -55.6M19 55.6L20.4 54.3L22.2 52.2L24 49.7L25.6 46.9L27.1 43.9L28.5 40.8L29.8 37.6L31 34.3L32 31L32.9 27.6L33.6 24.1L34.2 20.7L34.7 17.2L35 13.8L35.3 10.3L35.5 6.9L35.6 3.4L35.7 0L35.6 -3.4L35.5 -6.9L35.3 -10.3L35 -13.8L34.7 -17.2L34.2 -20.7L33.6 -24.1L32.9 -27.6L32 -31L31 -34.3L29.8 -37.6L28.5 -40.8L27.1 -43.9L25.6 -46.9L24 -49.7L22.2 -52.2L20.4 -54.3L19 -55.6M38 55.6L40.8 54.3L44.3 52.2L48 49.7L51.3 46.9L54.2 43.9L57 40.8L59.6 37.6L61.9 34.3L63.9 31L65.7 27.6L67.2 24.1L68.5 20.7L69.4 17.2L70.1 13.8L70.6 10.3L71 6.9L71.2 3.4L71.3 0L71.2 -3.4L71 -6.9L70.6 -10.3L70.1 -13.8L69.4 -17.2L68.5 -20.7L67.2 -24.1L65.7 -27.6L63.9 -31L61.9 -34.3L59.6 -37.6L57 -40.8L54.2 -43.9L51.3 -46.9L48 -49.7L44.3 -52.2L40.8 -54.3L38 -55.6M-85.5 40.8L-80.7 40.8L-76 40.8L-71.2 40.8L-66.5 40.8L-61.7 40.8L-57 40.8L-52.2 40.8L-47.5 40.8L-42.7 40.8L-38 40.8L-33.2 40.8L-28.5 40.8L-23.7 40.8L-19 40.8L-14.2 40.8L-9.5 40.8L-4.7 40.8L0 40.8L4.7 40.8L9.5 40.8L14.2 40.8L19 40.8L23.7 40.8L28.5 40.8L33.2 40.8L38 40.8L42.7 40.8L47.5 40.8L52.2 40.8L57 40.8L61.7 40.8L66.5 40.8L71.2 40.8L76 40.8L80.7 40.8L85.5 40.8M-102.7 20.7L-97 20.7L-91.3 20.7L-85.6 20.7L-79.9 20.7L-74.2 20.7L-68.5 20.7L-62.8 20.7L-57.1 20.7L-51.4 20.7L-45.7 20.7L-39.9 20.7L-34.2 20.7L-28.5 20.7L-22.8 20.7L-17.1 20.7L-11.4 20.7L-5.7 20.7L0 20.7L5.7 20.7L11.4 20.7L17.1 20.7L22.8 20.7L28.5 20.7L34.2 20.7L39.9 20.7L45.7 20.7L51.4 20.7L57.1 20.7L62.8 20.7L68.5 20.7L74.2 20.7L79.9 20.7L85.6 20.7L91.3 20.7L97 20.7L102.7 20.7M-107 0L-101.1 0L-95.1 0L-89.2 0L-83.2 0L-77.3 0L-71.3 0L-65.4 0L-59.4 0L-53.5 0L-47.6 0L-41.6 0L-35.7 0L-29.7 0L-23.8 0L-17.8 0L-11.9 0L-5.9 0L0 0L5.9 0L11.9 0L17.8 0L23.8 0L29.7 0L35.7 0L41.6 0L47.6 0L53.5 0L59.4 0L65.4 0L71.3 0L77.3 0L83.2 0L89.2 0L95.1 0L101.1 0L107 0M-102.7 -20.7L-97 -20.7L-91.3 -20.7L-85.6 -20.7L-79.9 -20.7L-74.2 -20.7L-68.5 -20.7L-62.8 -20.7L-57.1 -20.7L-51.4 -20.7L-45.7 -20.7L-39.9 -20.7L-34.2 -20.7L-28.5 -20.7L-22.8 -20.7L-17.1 -20.7L-11.4 -20.7L-5.7 -20.7L0 -20.7L5.7 -20.7L11.4 -20.7L17.1 -20.7L22.8 -20.7L28.5 -20.7L34.2 -20.7L39.9 -20.7L45.7 -20.7L51.4 -20.7L57.1 -20.7L62.8 -20.7L68.5 -20.7L74.2 -20.7L79.9 -20.7L85.6 -20.7L91.3 -20.7L97 -20.7L102.7 -20.7M-85.5 -40.8L-80.7 -40.8L-76 -40.8L-71.2 -40.8L-66.5 -40.8L-61.7 -40.8L-57 -40.8L-52.2 -40.8L-47.5 -40.8L-42.7 -40.8L-38 -40.8L-33.2 -40.8L-28.5 -40.8L-23.7 -40.8L-19 -40.8L-14.2 -40.8L-9.5 -40.8L-4.7 -40.8L0 -40.8L4.7 -40.8L9.5 -40.8L14.2 -40.8L19 -40.8L23.7 -40.8L28.5 -40.8L33.2 -40.8L38 -40.8L42.7 -40.8L47.5 -40.8L52.2 -40.8L57 -40.8L61.7 -40.8L66.5 -40.8L71.2 -40.8L76 -40.8L80.7 -40.8L85.5 -40.8"/>
</defs>
<g transform="translate(120.5 72.2)">
<use href="#bnd" fill="#f7f2f1"/>
<g clip-path="url(#clp)">
<g filter="url(#bl)">
<path d="M-100.5 -31.2L-85.5 -33.7L-65.5 -35.2" fill="none" stroke="#fcd5bf" stroke-width="12" stroke-linecap="round" stroke-linejoin="round"/>
<path d="M-100.5 -31.2L-85.5 -33.7L-68.5 -34.7" fill="none" stroke="#f19e7d" stroke-width="6" stroke-linecap="round" stroke-linejoin="round"/>
<ellipse cx="-74.5" cy="-39.2" rx="6" ry="2.5" fill="#fbccb4"/>
<path d="M-105.5 -23.2L-85.5 -24.2L-68.5 -23.7" fill="none" stroke="#b1d5e7" stroke-width="5" stroke-linecap="round" stroke-linejoin="round"/>
<path d="M-69.5 -28.2L-67.5 -18.2L-62.5 -11.2" fill="none" stroke="#fcd5bf" stroke-width="4" stroke-linecap="round" stroke-linejoin="round"/>
<path d="M-106.5 -12.7L-80.5 -13.7L-58.5 -14.2" fill="none" stroke="#cae1ee" stroke-width="5" stroke-linecap="round" stroke-linejoin="round"/>
<path d="M-106.5 -9.2L-92.5 -8.4" fill="none" stroke="#2065ab" stroke-width="3" stroke-linecap="round" stroke-linejoin="round"/>
<ellipse cx="-62.5" cy="-16.2" rx="10" ry="5" fill="#fddbc7"/>
<path d="M-104.5 -5.7L-90.5 -7.7L-80.5 -10.7L-70.5 -13.7L-60.5 -14.7L-53.5 -13.7L-48.5 -10.2L-54.5 -6.4L-70.5 -4.4L-85.5 -4L-104.5 -4.4Z" fill="#f5aa89"/>
<path d="M-98.5 -6.4L-85.5 -8.6L-75.5 -11.2L-65.5 -13L-58.5 -13L-53.5 -11.4L-52 -9.7L-58.5 -7.4L-70.5 -6L-85.5 -5.6L-98.5 -5.6Z" fill="#b1182b"/>
<path d="M-92.5 -6.8L-80.5 -9L-70.5 -11.4L-62.5 -12L-57.5 -11.4L-55.5 -9.9L-60.5 -8L-70.5 -7L-80.5 -6.6L-92.5 -6.2Z" fill="#67001f"/>
<path d="M-106.5 -2.2L-50.5 -2.2" fill="none" stroke="#dae9f2" stroke-width="3" stroke-linecap="round" stroke-linejoin="round"/>
<path d="M-106.5 7.8L-85.5 7.8L-47.5 9.8" fill="none" stroke="#a2cde3" stroke-width="6" stroke-linecap="round" stroke-linejoin="round"/>
<path d="M-106.5 7.8L-90.5 8.3" fill="none" stroke="#3a87bd" stroke-width="3.5" stroke-linecap="round" stroke-linejoin="round"/>
<ellipse cx="-80.5" cy="15.8" rx="28" ry="8" fill="#d1e5f0"/>
<path d="M-102.5 23.3L-75.5 26.3L-45.5 29.8L-25.5 30.3L-0.5 27.8L29.5 24.8L59.5 25.8L89.5 27.8" fill="none" stroke="#f6b394" stroke-width="6" stroke-linecap="round" stroke-linejoin="round" opacity="0.9"/>
<path d="M-95.5 33.8L-65.5 34.3" fill="none" stroke="#b1d5e7" stroke-width="4" stroke-linecap="round" stroke-linejoin="round"/>
<path d="M-90.5 43.8L-60.5 44.8L-20.5 44.8L29.5 43.8L84.5 40.8" fill="none" stroke="#f8bfa4" stroke-width="10" stroke-linecap="round" stroke-linejoin="round"/>
<path d="M-80.5 42.8L-60.5 43.3" fill="none" stroke="#f6b394" stroke-width="3" stroke-linecap="round" stroke-linejoin="round"/>
<ellipse cx="-18.5" cy="-42.2" rx="9" ry="4" fill="#f5aa89" transform="rotate(-10 -18.5 -42.2)"/>
<path d="M-30.5 -43.2L-28.5 -38.2L-25.5 -34.2" fill="none" stroke="#e48066" stroke-width="2.5" stroke-linecap="round" stroke-linejoin="round"/>
<path d="M-27.5 -43.2L-20.5 -43.7L-14.5 -42.2" fill="none" stroke="#e48066" stroke-width="3" stroke-linecap="round" stroke-linejoin="round"/>
<ellipse cx="-28.5" cy="-47.2" rx="4" ry="3" fill="#c2ddec"/>
<ellipse cx="-1.5" cy="-45.2" rx="6" ry="5" fill="#fcd5bf"/>
<ellipse cx="-2.5" cy="-47.2" rx="2" ry="1.5" fill="#c2ddec"/>
<ellipse cx="-25.5" cy="-15.2" rx="18" ry="7" fill="#d4e6f1"/>
<path d="M-38.5 -24.2L-25.5 -25.7L-10.5 -28.7L-1.5 -31.2" fill="none" stroke="#f5aa89" stroke-width="4" stroke-linecap="round" stroke-linejoin="round"/>
<ellipse cx="-19.5" cy="-31.7" rx="9" ry="6" fill="#a2cde3" transform="rotate(-10 -19.5 -31.7)"/>
<ellipse cx="-19.5" cy="-31.7" rx="5.5" ry="3.8" fill="#1a5899" transform="rotate(-10 -19.5 -31.7)"/>
<ellipse cx="-19.5" cy="-31.7" rx="3.5" ry="2.4" fill="#053061" transform="rotate(-10 -19.5 -31.7)"/>
<path d="M-38.5 -26.7L-34.5 -29.7L-30.5 -31.7L-26.5 -32.7" fill="none" stroke="#b1182b" stroke-width="3.5" stroke-linecap="round" stroke-linejoin="round"/>
<path d="M-37.5 -27.4L-34 -30L-30.5 -31.6" fill="none" stroke="#67001f" stroke-width="2" stroke-linecap="round" stroke-linejoin="round"/>
<path d="M-32.5 -6.7L-15.5 -7.2L-0.5 -6.2" fill="none" stroke="#f3a481" stroke-width="4.5" stroke-linecap="round" stroke-linejoin="round"/>
<path d="M-2.5 -4.2L0.5 1.8L3.5 8.8" fill="none" stroke="#ec9374" stroke-width="4" stroke-linecap="round" stroke-linejoin="round"/>
<path d="M-28.5 -2.2L-10.5 -0.2" fill="none" stroke="#4393c3" stroke-width="3" stroke-linecap="round" stroke-linejoin="round"/>
<path d="M-30.5 0.3L-20.5 2.8L-10.5 3.8" fill="none" stroke="#569fc9" stroke-width="5" stroke-linecap="round" stroke-linejoin="round"/>
<path d="M-20.5 4.3L-12.5 4.8" fill="none" stroke="#2a71b2" stroke-width="3" stroke-linecap="round" stroke-linejoin="round"/>
<path d="M-24.5 3.8L-10.5 5.8" fill="none" stroke="#90c4dd" stroke-width="4" stroke-linecap="round" stroke-linejoin="round"/>
<ellipse cx="-41.5" cy="-39.2" rx="4" ry="3" fill="#fbe6da"/>
<ellipse cx="-45.5" cy="-15.2" rx="5" ry="2.5" fill="#fdddcb"/>
<ellipse cx="11.5" cy="-48.2" rx="10" ry="4" fill="#f5aa89" opacity="0.9"/>
<path d="M-25.5 -53.2L59.5 -53.2" fill="none" stroke="#fce2d2" stroke-width="3" stroke-linecap="round" stroke-linejoin="round"/>
<ellipse cx="-45.5" cy="-51.2" rx="14" ry="3" fill="#e7f0f4"/>
<ellipse cx="11.5" cy="-49.2" rx="8" ry="3.5" fill="#e48066"/>
<ellipse cx="-13.5" cy="14.8" rx="14" ry="6" fill="#d1e5f0"/>
<ellipse cx="-31" cy="27.3" rx="1.8" ry="2.6" fill="#67001f"/>
<ellipse cx="-24.5" cy="31.8" rx="5.5" ry="1.6" fill="#4393c3"/>
<ellipse cx="-47.5" cy="14.8" rx="6" ry="5" fill="#fddbc7"/>
<ellipse cx="-44" cy="14.3" rx="2" ry="2" fill="#dd7059"/>
<ellipse cx="39.5" cy="-6.2" rx="18" ry="6" fill="#fddbc7"/>
<ellipse cx="27.5" cy="-7.2" rx="2" ry="1.5" fill="#d6604d"/>
<ellipse cx="52.5" cy="-9.2" rx="5" ry="5" fill="#fbccb4"/>
<ellipse cx="42.5" cy="5.8" rx="20" ry="6" fill="#fbe6da"/>
<path d="M44.5 8.3L64.5 7.3L84.5 5.8" fill="none" stroke="#ec9374" stroke-width="4" stroke-linecap="round" stroke-linejoin="round"/>
<path d="M19.5 15.8L64.5 15.8" fill="none" stroke="#e0ecf3" stroke-width="6" stroke-linecap="round" stroke-linejoin="round"/>
<ellipse cx="11.5" cy="23.8" rx="5" ry="2.5" fill="#e48066"/>
<ellipse cx="11.5" cy="29.8" rx="5" ry="1.8" fill="#c2ddec"/>
<ellipse cx="25.5" cy="30.3" rx="5" ry="2.5" fill="#e48066"/>
<ellipse cx="38.5" cy="29.8" rx="9" ry="2.5" fill="#b1d5e7"/>
<ellipse cx="38.5" cy="35.3" rx="5" ry="2.2" fill="#e48066"/>
<ellipse cx="51.5" cy="36.3" rx="7" ry="2.5" fill="#f5aa89"/>
<path d="M69.5 -34.7L99.5 -33.2" fill="none" stroke="#f3a481" stroke-width="9" stroke-linecap="round" stroke-linejoin="round"/>
<ellipse cx="85.5" cy="-33.2" rx="15" ry="8" fill="#f5aa89"/>
<path d="M78.5 -27.7L91.5 -27.2L101.5 -26.7" fill="none" stroke="#dd7059" stroke-width="5" stroke-linecap="round" stroke-linejoin="round"/>
<path d="M78.5 -27.7L87.5 -27.4" fill="none" stroke="#b1182b" stroke-width="4" stroke-linecap="round" stroke-linejoin="round"/>
<path d="M66.5 -30.2L72.5 -31.7L78.5 -30.7L81 -28.2L79 -24.2L72.5 -23.2L66.5 -25.2Z" fill="#9f1228"/>
<path d="M67.5 -29.7L72.5 -30.7L77.5 -29.7L79 -27.7L77 -25.2L72.5 -24.4L67.5 -25.7Z" fill="#67001f"/>
<ellipse cx="68.5" cy="-25.7" rx="2.5" ry="2.5" fill="#67001f"/>
<ellipse cx="73.5" cy="-37.7" rx="5.5" ry="4" fill="#f8f3f0"/>
<path d="M72.5 -14.7L105.5 -14.7" fill="none" stroke="#c2ddec" stroke-width="6" stroke-linecap="round" stroke-linejoin="round"/>
<path d="M74.5 -8.2L106.5 -8.7" fill="none" stroke="#4393c3" stroke-width="6" stroke-linecap="round" stroke-linejoin="round"/>
<path d="M74.5 -8.2L106.5 -8.7" fill="none" stroke="#1a5899" stroke-width="3" stroke-linecap="round" stroke-linejoin="round"/>
<path d="M72.5 -3.4L106.5 -3.4" fill="none" stroke="#f19e7d" stroke-width="4.5" stroke-linecap="round" stroke-linejoin="round"/>
<ellipse cx="68" cy="-11.2" rx="3" ry="3.5" fill="#f3a481"/>
<ellipse cx="72.5" cy="5.3" rx="7" ry="3" fill="#d6604d"/>
<ellipse cx="59.5" cy="10.8" rx="5" ry="4" fill="#fcd5bf"/>
<path d="M85.5 7.8L105.5 7.8" fill="none" stroke="#4393c3" stroke-width="6" stroke-linecap="round" stroke-linejoin="round"/>
<path d="M95.5 7.8L105.5 7.8" fill="none" stroke="#1a5899" stroke-width="4" stroke-linecap="round" stroke-linejoin="round"/>
<ellipse cx="94.5" cy="1.3" rx="9" ry="3" fill="#fddbc7"/>
<ellipse cx="69.5" cy="26.8" rx="14" ry="6" fill="#d1e5f0"/>
<ellipse cx="92.5" cy="26.8" rx="5" ry="3.5" fill="#fcd5bf"/>
<ellipse cx="72.5" cy="36.8" rx="2.5" ry="1.5" fill="#dd7059"/>
<ellipse cx="-29" cy="-47" rx="4" ry="5" fill="#c2ddec"/>
</g>
<use href="#nod" fill="#fff"/>
<use href="#land" fill="#d3d3d3" stroke="#111" stroke-width="0.45" stroke-linejoin="round"/>
<use href="#bsea" fill="#f7f6f6" stroke="#111" stroke-width="0.45"/>
<use href="#casp" fill="#67001f" stroke="#111" stroke-width="0.45"/>
<use href="#grd" fill="none" stroke="#999" stroke-opacity="0.6" stroke-width="0.45"/>
</g>
<use href="#bnd" fill="none" stroke="#3a3a3a" stroke-width="0.6"/>
</g>
<text x="63.5" y="14.6" class="tk" text-anchor="middle">180°</text>
<text x="57.1" y="130.2" class="tk" text-anchor="middle">180°</text>
<text x="82.5" y="14.6" class="tk" text-anchor="middle">120°W</text>
<text x="78.2" y="130.2" class="tk" text-anchor="middle">120°W</text>
<text x="101.5" y="14.6" class="tk" text-anchor="middle">60°W</text>
<text x="99.3" y="130.2" class="tk" text-anchor="middle">60°W</text>
<text x="120.5" y="14.6" class="tk" text-anchor="middle">0°</text>
<text x="120.5" y="130.2" class="tk" text-anchor="middle">0°</text>
<text x="139.4" y="14.6" class="tk" text-anchor="middle">60°E</text>
<text x="141.6" y="130.2" class="tk" text-anchor="middle">60°E</text>
<text x="158.4" y="14.6" class="tk" text-anchor="middle">120°E</text>
<text x="162.7" y="130.2" class="tk" text-anchor="middle">120°E</text>
<text x="177.4" y="14.6" class="tk" text-anchor="middle">180°</text>
<text x="183.8" y="130.2" class="tk" text-anchor="middle">180°</text>
<text x="34.2" y="32.8" class="tk" text-anchor="end">60°N</text>
<text x="206.7" y="32.8" class="tk" text-anchor="start">60°N</text>
<text x="15.5" y="52.9" class="tk" text-anchor="end">30°N</text>
<text x="225.4" y="52.9" class="tk" text-anchor="start">30°N</text>
<text x="11.3" y="73.6" class="tk" text-anchor="end">0°</text>
<text x="229.6" y="73.6" class="tk" text-anchor="start">0°</text>
<text x="15.5" y="94.3" class="tk" text-anchor="end">30°S</text>
<text x="225.4" y="94.3" class="tk" text-anchor="start">30°S</text>
<text x="34.2" y="114.4" class="tk" text-anchor="end">60°S</text>
<text x="206.7" y="114.4" class="tk" text-anchor="start">60°S</text>
<text x="72.7" y="9.9" class="tt">LR</text>
<text x="91.3" y="9.9" class="tt">bias=-0.162, rmsd=3.331</text>
<text x="17.5" y="22.9" class="lt">a</text>
<g transform="translate(350.7 72.2)">
<use href="#bnd" fill="#eef2f6"/>
<g clip-path="url(#clp)">
<g filter="url(#bl)">
<path d="M-114.7 -4.2L-50.7 -4.2L-44.7 7.8L-46.7 27.8L-60.7 34.8L-80.7 35.8L-100.7 34.8L-114.7 27.8Z" fill="#cae1ee"/>
<ellipse cx="-75.7" cy="9.8" rx="20" ry="4" fill="#b1d5e7"/>
<path d="M-98.7 -34.2L-82.7 -35.7L-65.7 -36.2" fill="none" stroke="#fddbc7" stroke-width="9" stroke-linecap="round" stroke-linejoin="round"/>
<path d="M-104.7 -18.2L-85.7 -19.2L-67.7 -19.2" fill="none" stroke="#cae1ee" stroke-width="9" stroke-linecap="round" stroke-linejoin="round"/>
<path d="M-105.7 -9.7L-84.7 -9.7" fill="none" stroke="#2a71b2" stroke-width="3" stroke-linecap="round" stroke-linejoin="round"/>
<path d="M-97.7 -6.7L-85.7 -8.2L-72.7 -9.7L-60.7 -9.7L-54.7 -8.2L-60.7 -5.7L-72.7 -5.2L-85.7 -5.4L-97.7 -5.7Z" fill="#f3a481"/>
<ellipse cx="-68.7" cy="-7.6" rx="9" ry="1.5" fill="#e48066"/>
<path d="M-105.7 -2.2L-50.7 -2.2" fill="none" stroke="#d1e5f0" stroke-width="3" stroke-linecap="round" stroke-linejoin="round"/>
<ellipse cx="-27.7" cy="-47.2" rx="4" ry="3" fill="#c2ddec"/>
<path d="M-27.7 -43.2L-25.7 -36.2L-24.7 -30.2" fill="none" stroke="#f3a481" stroke-width="2.5" stroke-linecap="round" stroke-linejoin="round"/>
<ellipse cx="-12.7" cy="-39.2" rx="10" ry="5" fill="#fddbc7"/>
<ellipse cx="-19.7" cy="-33.7" rx="4" ry="2.5" fill="#90c4dd"/>
<ellipse cx="-33.7" cy="-29.7" rx="3" ry="1.5" fill="#569fc9"/>
<ellipse cx="-25.7" cy="-16.2" rx="22" ry="11" fill="#c2ddec"/>
<ellipse cx="-13.7" cy="-12.2" rx="3.5" ry="1.2" fill="#7eb8d7"/>
<path d="M-28.7 -1.2L-15.7 3.3L-0.7 5.3" fill="none" stroke="#6bacd1" stroke-width="4" stroke-linecap="round" stroke-linejoin="round"/>
<path d="M-22.7 2.8L-8.7 4.8" fill="none" stroke="#2065ab" stroke-width="2.5" stroke-linecap="round" stroke-linejoin="round"/>
<ellipse cx="-0.7" cy="-47.2" rx="7" ry="4" fill="#fce2d2"/>
<path d="M-50.7 -53.2L69.3 -53.2" fill="none" stroke="#fae9df" stroke-width="3" stroke-linecap="round" stroke-linejoin="round"/>
<ellipse cx="11.3" cy="-48.2" rx="9" ry="4" fill="#fce2d2"/>
<ellipse cx="39.3" cy="2.8" rx="15" ry="4" fill="#fce2d2"/>
<ellipse cx="44.3" cy="14.8" rx="18" ry="5" fill="#d1e5f0"/>
<ellipse cx="-10.7" cy="15.8" rx="18" ry="8" fill="#bbdaea"/>
<path d="M-29.7 30.8L-10.7 31.3L7.3 32.3" fill="none" stroke="#f5aa89" stroke-width="6" stroke-linecap="round" stroke-linejoin="round"/>
<ellipse cx="-3.7" cy="31.8" rx="4" ry="1.8" fill="#d6604d"/>
<path d="M2.3 30.8L62.3 30.8" fill="none" stroke="#fbe6da" stroke-width="8" stroke-linecap="round" stroke-linejoin="round"/>
<path d="M-85.7 39.8L-50.7 39.8L-0.7 41.8L69.3 40.8" fill="none" stroke="#fbccb4" stroke-width="7" stroke-linecap="round" stroke-linejoin="round"/>
<path d="M70.3 -35.2L100.3 -34.2" fill="none" stroke="#f8bfa4" stroke-width="12" stroke-linecap="round" stroke-linejoin="round"/>
<ellipse cx="74.3" cy="-36.7" rx="6" ry="3" fill="#fddbc7"/>
<ellipse cx="73.8" cy="-27.2" rx="2.5" ry="2.5" fill="#d6604d"/>
<ellipse cx="85.3" cy="-28.7" rx="6" ry="1" fill="#f7f6f6"/>
<path d="M72.3 -17.2L104.3 -17.2" fill="none" stroke="#c2ddec" stroke-width="12" stroke-linecap="round" stroke-linejoin="round"/>
<path d="M76.3 -8.2L106.3 -8.2" fill="none" stroke="#3a87bd" stroke-width="4" stroke-linecap="round" stroke-linejoin="round"/>
<ellipse cx="78.3" cy="-3.2" rx="3.5" ry="2" fill="#d6604d"/>
<ellipse cx="68.3" cy="-10.2" rx="2.5" ry="3" fill="#d1e5f0"/>
<ellipse cx="76.3" cy="2.8" rx="6" ry="2.5" fill="#dd7059"/>
<ellipse cx="59.3" cy="8.3" rx="5" ry="4" fill="#fddbc7"/>
<path d="M87.3 8.3L105.3 8.3" fill="none" stroke="#90c4dd" stroke-width="6" stroke-linecap="round" stroke-linejoin="round"/>
<ellipse cx="83.3" cy="25.8" rx="4" ry="3" fill="#fddbc7"/>
<ellipse cx="67.3" cy="22.8" rx="12" ry="5" fill="#d1e5f0"/>
<ellipse cx="76.3" cy="35.3" rx="11" ry="4" fill="#fddbc7"/>
<ellipse cx="-29" cy="-47" rx="4" ry="5" fill="#c2ddec"/>
</g>
<use href="#nod" fill="#fff"/>
<use href="#land" fill="#d3d3d3" stroke="#111" stroke-width="0.45" stroke-linejoin="round"/>
<use href="#bsea" fill="#fddbc7" stroke="#111" stroke-width="0.45"/>
<use href="#casp" fill="#ffffff" stroke="#111" stroke-width="0.45"/>
<use href="#grd" fill="none" stroke="#999" stroke-opacity="0.6" stroke-width="0.45"/>
</g>
<use href="#bnd" fill="none" stroke="#3a3a3a" stroke-width="0.6"/>
</g>
<text x="293.8" y="14.6" class="tk" text-anchor="middle">180°</text>
<text x="287.4" y="130.2" class="tk" text-anchor="middle">180°</text>
<text x="312.7" y="14.6" class="tk" text-anchor="middle">120°W</text>
<text x="308.5" y="130.2" class="tk" text-anchor="middle">120°W</text>
<text x="331.7" y="14.6" class="tk" text-anchor="middle">60°W</text>
<text x="329.6" y="130.2" class="tk" text-anchor="middle">60°W</text>
<text x="350.7" y="14.6" class="tk" text-anchor="middle">0°</text>
<text x="350.7" y="130.2" class="tk" text-anchor="middle">0°</text>
<text x="369.7" y="14.6" class="tk" text-anchor="middle">60°E</text>
<text x="371.8" y="130.2" class="tk" text-anchor="middle">60°E</text>
<text x="388.7" y="14.6" class="tk" text-anchor="middle">120°E</text>
<text x="392.9" y="130.2" class="tk" text-anchor="middle">120°E</text>
<text x="407.6" y="14.6" class="tk" text-anchor="middle">180°</text>
<text x="414" y="130.2" class="tk" text-anchor="middle">180°</text>
<text x="264.4" y="32.8" class="tk" text-anchor="end">60°N</text>
<text x="437" y="32.8" class="tk" text-anchor="start">60°N</text>
<text x="245.8" y="52.9" class="tk" text-anchor="end">30°N</text>
<text x="455.6" y="52.9" class="tk" text-anchor="start">30°N</text>
<text x="241.5" y="73.6" class="tk" text-anchor="end">0°</text>
<text x="459.9" y="73.6" class="tk" text-anchor="start">0°</text>
<text x="245.8" y="94.3" class="tk" text-anchor="end">30°S</text>
<text x="455.6" y="94.3" class="tk" text-anchor="start">30°S</text>
<text x="264.4" y="114.4" class="tk" text-anchor="end">60°S</text>
<text x="437" y="114.4" class="tk" text-anchor="start">60°S</text>
<text x="302.5" y="9.9" class="tt">MR</text>
<text x="322.7" y="9.9" class="tt">bias=-0.626, rmsd=2.289</text>
<text x="247.7" y="22.9" class="lt">b</text>
<g transform="translate(118.6 214.9)">
<use href="#bnd" fill="#f4f4f5"/>
<g clip-path="url(#clp)">
<g filter="url(#bl)">
<path d="M-64.6 -51.9L61.4 -51.9" fill="none" stroke="#fbe6da" stroke-width="5" stroke-linecap="round" stroke-linejoin="round"/>
<ellipse cx="-83.6" cy="-32.9" rx="22" ry="10" fill="#f9efe9"/>
<ellipse cx="-78.6" cy="-9.9" rx="30" ry="9" fill="#edf2f5"/>
<ellipse cx="-73.6" cy="10.1" rx="30" ry="7" fill="#f8f1ed"/>
<path d="M-98.6 30.1L-68.6 32.1L-43.6 34.1" fill="none" stroke="#e0ecf3" stroke-width="8" stroke-linecap="round" stroke-linejoin="round"/>
<path d="M-91.6 33.1L-64.6 34.1" fill="none" stroke="#c5dfec" stroke-width="3" stroke-linecap="round" stroke-linejoin="round"/>
<path d="M-34.6 -41.9L-23.6 -44.9L-10.6 -46.9L-1.6 -44.9L-2.6 -34.9L-10.6 -31.9L-20.6 -28.9L-30.6 -24.9L-36.6 -22.9L-38.6 -28.9Z" fill="#fac8af"/>
<ellipse cx="-30.6" cy="-14.9" rx="12" ry="8" fill="#fce2d2"/>
<path d="M-4.6 -31.9L-4.6 -21.9L-13.6 -18.9L-23.6 -18.9L-28.6 -20.9L-18.6 -25.9Z" fill="#cae1ee"/>
<path d="M-4.6 -29.9L-4.6 -23.4L-10.6 -22.9L-15.6 -24.4L-10.6 -26.9Z" fill="#569fc9"/>
<ellipse cx="-46.6" cy="-15.4" rx="10" ry="4" fill="#fbe6da"/>
<ellipse cx="-17.6" cy="11.1" rx="15" ry="18" fill="#fce2d2"/>
<ellipse cx="-18.6" cy="37.1" rx="20" ry="4" fill="#e0ecf3"/>
<ellipse cx="9.4" cy="-22.9" rx="9" ry="2" fill="#fbd0b9"/>
<ellipse cx="28.1" cy="-8.3" rx="1.5" ry="2" fill="#6bacd1"/>
<ellipse cx="46.4" cy="1.1" rx="20" ry="16" fill="#e6eff4"/>
<ellipse cx="86.4" cy="-31.9" rx="16" ry="10" fill="#faeae1"/>
<path d="M-3.6 28.1L64.4 28.1" fill="none" stroke="#fae8de" stroke-width="6" stroke-linecap="round" stroke-linejoin="round"/>
<path d="M1.4 37.1L96.4 37.1" fill="none" stroke="#e6eff4" stroke-width="5" stroke-linecap="round" stroke-linejoin="round"/>
<ellipse cx="81.4" cy="30.1" rx="15" ry="8" fill="#e6eff4"/>
<ellipse cx="-29" cy="-47" rx="4" ry="5" fill="#e0ecf3"/>
</g>
<use href="#nod" fill="#fff"/>
<use href="#land" fill="#d3d3d3" stroke="#111" stroke-width="0.45" stroke-linejoin="round"/>
<use href="#bsea" fill="#ffffff" stroke="#111" stroke-width="0.45"/>
<use href="#casp" fill="#ffffff" stroke="#111" stroke-width="0.45"/>
<use href="#grd" fill="none" stroke="#999" stroke-opacity="0.6" stroke-width="0.45"/>
</g>
<use href="#bnd" fill="none" stroke="#3a3a3a" stroke-width="0.6"/>
</g>
<text x="61.7" y="157.3" class="tk" text-anchor="middle">180°</text>
<text x="55.3" y="272.9" class="tk" text-anchor="middle">180°</text>
<text x="80.6" y="157.3" class="tk" text-anchor="middle">120°W</text>
<text x="76.4" y="272.9" class="tk" text-anchor="middle">120°W</text>
<text x="99.6" y="157.3" class="tk" text-anchor="middle">60°W</text>
<text x="97.5" y="272.9" class="tk" text-anchor="middle">60°W</text>
<text x="118.6" y="157.3" class="tk" text-anchor="middle">0°</text>
<text x="118.6" y="272.9" class="tk" text-anchor="middle">0°</text>
<text x="137.6" y="157.3" class="tk" text-anchor="middle">60°E</text>
<text x="139.7" y="272.9" class="tk" text-anchor="middle">60°E</text>
<text x="156.6" y="157.3" class="tk" text-anchor="middle">120°E</text>
<text x="160.8" y="272.9" class="tk" text-anchor="middle">120°E</text>
<text x="175.5" y="157.3" class="tk" text-anchor="middle">180°</text>
<text x="181.9" y="272.9" class="tk" text-anchor="middle">180°</text>
<text x="32.3" y="175.5" class="tk" text-anchor="end">60°N</text>
<text x="204.9" y="175.5" class="tk" text-anchor="start">60°N</text>
<text x="13.7" y="195.6" class="tk" text-anchor="end">30°N</text>
<text x="223.5" y="195.6" class="tk" text-anchor="start">30°N</text>
<text x="9.4" y="216.3" class="tk" text-anchor="end">0°</text>
<text x="227.8" y="216.3" class="tk" text-anchor="start">0°</text>
<text x="13.7" y="237" class="tk" text-anchor="end">30°S</text>
<text x="223.5" y="237" class="tk" text-anchor="start">30°S</text>
<text x="32.3" y="257.1" class="tk" text-anchor="end">60°S</text>
<text x="204.9" y="257.1" class="tk" text-anchor="start">60°S</text>
<text x="71.2" y="152.6" class="tt">LR</text>
<text x="90.1" y="152.6" class="tt">bias=-0.067, rmsd=0.506</text>
<text x="15.6" y="165.6" class="lt">c</text>
<g transform="translate(349.3 214.9)">
<use href="#bnd" fill="#f5f2f1"/>
<g clip-path="url(#clp)">
<g filter="url(#bl)">
<path d="M-64.3 -51.9L61.7 -51.9" fill="none" stroke="#fbe5d8" stroke-width="5" stroke-linecap="round" stroke-linejoin="round"/>
<ellipse cx="-79.3" cy="-9.9" rx="28" ry="10" fill="#ecf2f5"/>
<ellipse cx="-74.3" cy="10.1" rx="30" ry="8" fill="#f9efe9"/>
<path d="M-95.3 31.1L-69.3 33.1L-42.3 34.1" fill="none" stroke="#fdddcb" stroke-width="9" stroke-linecap="round" stroke-linejoin="round"/>
<path d="M-34.3 -41.9L-23.3 -44.9L-10.3 -46.9L-1.3 -44.9L-2.3 -34.9L-10.3 -31.9L-20.3 -28.9L-30.3 -24.9L-36.3 -22.9L-38.3 -28.9Z" fill="#fbe4d6"/>
<path d="M-4.3 -31.9L-4.3 -21.9L-13.3 -18.9L-23.3 -18.9L-28.3 -20.9L-18.3 -25.9Z" fill="#dae9f2"/>
<path d="M-4.3 -29.9L-4.3 -23.4L-10.3 -22.9L-15.3 -24.4L-10.3 -26.9Z" fill="#90c4dd"/>
<ellipse cx="-19.3" cy="-15.9" rx="12" ry="3.5" fill="#f9c6ac"/>
<ellipse cx="-17.3" cy="-1.9" rx="14" ry="6" fill="#ecf2f5"/>
<ellipse cx="-14.3" cy="25.1" rx="16" ry="10" fill="#fdddcb"/>
<ellipse cx="-12.3" cy="39.1" rx="16" ry="4" fill="#e0ecf3"/>
<ellipse cx="47.7" cy="0.1" rx="18" ry="12" fill="#e6eff4"/>
<path d="M-3.3 27.1L75.7 27.1L90.7 30.1" fill="none" stroke="#fce2d2" stroke-width="9" stroke-linecap="round" stroke-linejoin="round"/>
<path d="M0.7 39.1L95.7 39.1" fill="none" stroke="#e6eff4" stroke-width="4" stroke-linecap="round" stroke-linejoin="round"/>
<ellipse cx="80.7" cy="-24.9" rx="15" ry="10" fill="#f9f0eb"/>
<ellipse cx="73.7" cy="-7.1" rx="1.5" ry="1.5" fill="#d6604d"/>
<ellipse cx="70.7" cy="34.1" rx="10" ry="5" fill="#fbe6da"/>
<ellipse cx="-29" cy="-47" rx="4" ry="5" fill="#edf2f5"/>
</g>
<use href="#nod" fill="#fff"/>
<use href="#land" fill="#d3d3d3" stroke="#111" stroke-width="0.45" stroke-linejoin="round"/>
<use href="#bsea" fill="#ffffff" stroke="#111" stroke-width="0.45"/>
<use href="#casp" fill="#ffffff" stroke="#111" stroke-width="0.45"/>
<use href="#grd" fill="none" stroke="#999" stroke-opacity="0.6" stroke-width="0.45"/>
</g>
<use href="#bnd" fill="none" stroke="#3a3a3a" stroke-width="0.6"/>
</g>
<text x="292.4" y="157.3" class="tk" text-anchor="middle">180°</text>
<text x="286" y="272.9" class="tk" text-anchor="middle">180°</text>
<text x="311.3" y="157.3" class="tk" text-anchor="middle">120°W</text>
<text x="307.1" y="272.9" class="tk" text-anchor="middle">120°W</text>
<text x="330.3" y="157.3" class="tk" text-anchor="middle">60°W</text>
<text x="328.2" y="272.9" class="tk" text-anchor="middle">60°W</text>
<text x="349.3" y="157.3" class="tk" text-anchor="middle">0°</text>
<text x="349.3" y="272.9" class="tk" text-anchor="middle">0°</text>
<text x="368.3" y="157.3" class="tk" text-anchor="middle">60°E</text>
<text x="370.4" y="272.9" class="tk" text-anchor="middle">60°E</text>
<text x="387.3" y="157.3" class="tk" text-anchor="middle">120°E</text>
<text x="391.5" y="272.9" class="tk" text-anchor="middle">120°E</text>
<text x="406.2" y="157.3" class="tk" text-anchor="middle">180°</text>
<text x="412.6" y="272.9" class="tk" text-anchor="middle">180°</text>
<text x="263" y="175.5" class="tk" text-anchor="end">60°N</text>
<text x="435.6" y="175.5" class="tk" text-anchor="start">60°N</text>
<text x="244.4" y="195.6" class="tk" text-anchor="end">30°N</text>
<text x="454.2" y="195.6" class="tk" text-anchor="start">30°N</text>
<text x="240.1" y="216.3" class="tk" text-anchor="end">0°</text>
<text x="458.5" y="216.3" class="tk" text-anchor="start">0°</text>
<text x="244.4" y="237" class="tk" text-anchor="end">30°S</text>
<text x="454.2" y="237" class="tk" text-anchor="start">30°S</text>
<text x="263" y="257.1" class="tk" text-anchor="end">60°S</text>
<text x="435.6" y="257.1" class="tk" text-anchor="start">60°S</text>
<text x="302.5" y="152.6" class="tt">MR</text>
<text x="322.7" y="152.6" class="tt">bias=0.219, rmsd=0.407</text>
<text x="246.3" y="165.6" class="lt">d</text>
<g transform="translate(118.3 363)">
<use href="#bnd" fill="#eae9f2"/>
<g clip-path="url(#clp)">
<g filter="url(#bl)">
<path d="M-64.3 -52L61.7 -52" fill="none" stroke="#fde3be" stroke-width="6" stroke-linecap="round" stroke-linejoin="round"/>
<ellipse cx="-80.3" cy="-37" rx="18" ry="5" fill="#fde3be"/>
<ellipse cx="-83.3" cy="-19" rx="22" ry="6" fill="#dcddec"/>
<ellipse cx="-78.3" cy="7" rx="30" ry="10" fill="#dfe1ee"/>
<ellipse cx="-53.3" cy="15" rx="10" ry="3" fill="#fde3be"/>
<ellipse cx="-48.3" cy="15.5" rx="4" ry="2" fill="#fdc885"/>
<path d="M-98.3 26L-73.3 27L-48.3 28" fill="none" stroke="#fde3be" stroke-width="6" stroke-linecap="round" stroke-linejoin="round"/>
<path d="M-98.3 35L-48.3 36" fill="none" stroke="#e2e3ef" stroke-width="5" stroke-linecap="round" stroke-linejoin="round"/>
<path d="M-73.3 45L61.7 45" fill="none" stroke="#fce5c5" stroke-width="6" stroke-linecap="round" stroke-linejoin="round"/>
<ellipse cx="-18.3" cy="-35" rx="14" ry="7" fill="#fedeb3"/>
<path d="M-38.3 -26L-34.3 -29.5L-29.3 -32" fill="none" stroke="#d47610" stroke-width="2.5" stroke-linecap="round" stroke-linejoin="round"/>
<ellipse cx="-20.3" cy="-17" rx="12" ry="6" fill="#e2e3ef"/>
<ellipse cx="-12.3" cy="18" rx="14" ry="8" fill="#dcddec"/>
<ellipse cx="-31.3" cy="27.5" rx="1.8" ry="3" fill="#ee9b39"/>
<ellipse cx="-8.3" cy="-1" rx="8" ry="4" fill="#fbebd5"/>
<ellipse cx="81.7" cy="-33" rx="15" ry="8" fill="#e7e8f1"/>
<ellipse cx="87.7" cy="-18" rx="18" ry="7" fill="#dcddec"/>
<ellipse cx="41.7" cy="2" rx="22" ry="15" fill="#e7e8f1"/>
<ellipse cx="52.7" cy="-10" rx="4" ry="4" fill="#fde3be"/>
<path d="M-3.3 29L81.7 29" fill="none" stroke="#dcddec" stroke-width="5" stroke-linecap="round" stroke-linejoin="round"/>
<path d="M-3.3 37L81.7 37" fill="none" stroke="#fce7ca" stroke-width="5" stroke-linecap="round" stroke-linejoin="round"/>
<ellipse cx="8.7" cy="-26" rx="12" ry="3" fill="#b25706"/>
<path d="M19.2 -20L26.2 -7.5" fill="none" stroke="#a65107" stroke-width="3" stroke-linecap="round" stroke-linejoin="round"/>
<ellipse cx="-29" cy="-47" rx="4" ry="5" fill="#e8e9f1"/>
</g>
<use href="#nod" fill="#fff"/>
<use href="#land" fill="#d3d3d3" stroke="#111" stroke-width="0.45" stroke-linejoin="round"/>
<use href="#bsea" fill="#ffffff" stroke="#111" stroke-width="0.45"/>
<use href="#casp" fill="#b25706" stroke="#111" stroke-width="0.45"/>
<use href="#grd" fill="none" stroke="#999" stroke-opacity="0.6" stroke-width="0.45"/>
</g>
<use href="#bnd" fill="none" stroke="#3a3a3a" stroke-width="0.6"/>
</g>
<text x="61.4" y="305.4" class="tk" text-anchor="middle">180°</text>
<text x="55" y="421" class="tk" text-anchor="middle">180°</text>
<text x="80.3" y="305.4" class="tk" text-anchor="middle">120°W</text>
<text x="76.1" y="421" class="tk" text-anchor="middle">120°W</text>
<text x="99.3" y="305.4" class="tk" text-anchor="middle">60°W</text>
<text x="97.2" y="421" class="tk" text-anchor="middle">60°W</text>
<text x="118.3" y="305.4" class="tk" text-anchor="middle">0°</text>
<text x="118.3" y="421" class="tk" text-anchor="middle">0°</text>
<text x="137.3" y="305.4" class="tk" text-anchor="middle">60°E</text>
<text x="139.4" y="421" class="tk" text-anchor="middle">60°E</text>
<text x="156.3" y="305.4" class="tk" text-anchor="middle">120°E</text>
<text x="160.5" y="421" class="tk" text-anchor="middle">120°E</text>
<text x="175.2" y="305.4" class="tk" text-anchor="middle">180°</text>
<text x="181.6" y="421" class="tk" text-anchor="middle">180°</text>
<text x="32" y="323.6" class="tk" text-anchor="end">60°N</text>
<text x="204.6" y="323.6" class="tk" text-anchor="start">60°N</text>
<text x="13.4" y="343.7" class="tk" text-anchor="end">30°N</text>
<text x="223.2" y="343.7" class="tk" text-anchor="start">30°N</text>
<text x="9.1" y="364.4" class="tk" text-anchor="end">0°</text>
<text x="227.5" y="364.4" class="tk" text-anchor="start">0°</text>
<text x="13.4" y="385.1" class="tk" text-anchor="end">30°S</text>
<text x="223.2" y="385.1" class="tk" text-anchor="start">30°S</text>
<text x="32" y="405.2" class="tk" text-anchor="end">60°S</text>
<text x="204.6" y="405.2" class="tk" text-anchor="start">60°S</text>
<text x="71.2" y="300.7" class="tt">LR</text>
<text x="89.9" y="300.7" class="tt">bias=-0.111, rmsd=0.917</text>
<text x="15.3" y="313.7" class="lt">e</text>
<g transform="translate(349.4 363)">
<use href="#bnd" fill="#e6e5f1"/>
<g clip-path="url(#clp)">
<g filter="url(#bl)">
<path d="M-69.4 -52L-19.4 -52" fill="none" stroke="#fdc885" stroke-width="6" stroke-linecap="round" stroke-linejoin="round"/>
<ellipse cx="-55.4" cy="-51" rx="9" ry="3" fill="#db7d12"/>
<ellipse cx="-39.4" cy="-39.5" rx="5" ry="4" fill="#fdc885"/>
<ellipse cx="-27.4" cy="-37" rx="4" ry="6" fill="#fedeb3"/>
<ellipse cx="-75.4" cy="-37" rx="12" ry="4" fill="#fce5c5"/>
<ellipse cx="-79.4" cy="-18" rx="25" ry="8" fill="#dfe1ee"/>
<path d="M-104.4 -8L-64.4 -8" fill="none" stroke="#cfcfe5" stroke-width="4" stroke-linecap="round" stroke-linejoin="round"/>
<ellipse cx="-74.4" cy="12" rx="28" ry="12" fill="#dfe1ee"/>
<path d="M-79.4 45L65.6 45" fill="none" stroke="#fde3be" stroke-width="6" stroke-linecap="round" stroke-linejoin="round"/>
<ellipse cx="-13.4" cy="13" rx="14" ry="10" fill="#dcddec"/>
<ellipse cx="-13.4" cy="33" rx="15" ry="5" fill="#fce7ca"/>
<ellipse cx="62.6" cy="-52" rx="9" ry="3" fill="#fde3be"/>
<ellipse cx="8.6" cy="-26" rx="12" ry="3" fill="#9990bf"/>
<path d="M19.2 -20L26.2 -7.5" fill="none" stroke="#974907" stroke-width="3" stroke-linecap="round" stroke-linejoin="round"/>
<ellipse cx="72.1" cy="-27.5" rx="2.5" ry="4" fill="#9990bf"/>
<ellipse cx="87.1" cy="-35.5" rx="5" ry="3" fill="#fde3be"/>
<ellipse cx="80.6" cy="-13" rx="22" ry="10" fill="#d8daeb"/>
<ellipse cx="40.6" cy="7" rx="25" ry="14" fill="#e7e8f1"/>
<path d="M-3.4 32L70.6 32" fill="none" stroke="#fce7ca" stroke-width="6" stroke-linecap="round" stroke-linejoin="round"/>
<ellipse cx="-29" cy="-47" rx="4" ry="5" fill="#faecd7"/>
</g>
<use href="#nod" fill="#fff"/>
<use href="#land" fill="#d3d3d3" stroke="#111" stroke-width="0.45" stroke-linejoin="round"/>
<use href="#bsea" fill="#7f3b08" stroke="#111" stroke-width="0.45"/>
<use href="#casp" fill="#ffffff" stroke="#111" stroke-width="0.45"/>
<use href="#grd" fill="none" stroke="#999" stroke-opacity="0.6" stroke-width="0.45"/>
</g>
<use href="#bnd" fill="none" stroke="#3a3a3a" stroke-width="0.6"/>
</g>
<text x="292.5" y="305.4" class="tk" text-anchor="middle">180°</text>
<text x="286.1" y="421" class="tk" text-anchor="middle">180°</text>
<text x="311.4" y="305.4" class="tk" text-anchor="middle">120°W</text>
<text x="307.2" y="421" class="tk" text-anchor="middle">120°W</text>
<text x="330.4" y="305.4" class="tk" text-anchor="middle">60°W</text>
<text x="328.3" y="421" class="tk" text-anchor="middle">60°W</text>
<text x="349.4" y="305.4" class="tk" text-anchor="middle">0°</text>
<text x="349.4" y="421" class="tk" text-anchor="middle">0°</text>
<text x="368.4" y="305.4" class="tk" text-anchor="middle">60°E</text>
<text x="370.5" y="421" class="tk" text-anchor="middle">60°E</text>
<text x="387.4" y="305.4" class="tk" text-anchor="middle">120°E</text>
<text x="391.6" y="421" class="tk" text-anchor="middle">120°E</text>
<text x="406.3" y="305.4" class="tk" text-anchor="middle">180°</text>
<text x="412.7" y="421" class="tk" text-anchor="middle">180°</text>
<text x="263.1" y="323.6" class="tk" text-anchor="end">60°N</text>
<text x="435.7" y="323.6" class="tk" text-anchor="start">60°N</text>
<text x="244.5" y="343.7" class="tk" text-anchor="end">30°N</text>
<text x="454.3" y="343.7" class="tk" text-anchor="start">30°N</text>
<text x="240.2" y="364.4" class="tk" text-anchor="end">0°</text>
<text x="458.6" y="364.4" class="tk" text-anchor="start">0°</text>
<text x="244.5" y="385.1" class="tk" text-anchor="end">30°S</text>
<text x="454.3" y="385.1" class="tk" text-anchor="start">30°S</text>
<text x="263.1" y="405.2" class="tk" text-anchor="end">60°S</text>
<text x="435.7" y="405.2" class="tk" text-anchor="start">60°S</text>
<text x="301.2" y="300.7" class="tt">MR</text>
<text x="321.2" y="300.7" class="tt">bias=-0.279, rmsd=0.248</text>
<text x="246.4" y="313.7" class="lt">f</text>
<g transform="translate(120.3 509.2)">
<use href="#bnd" fill="#f4f3f5"/>
<g clip-path="url(#clp)">
<g filter="url(#bl)">
<ellipse cx="-20.3" cy="-39.2" rx="14" ry="7" fill="#fbe9cf"/>
<ellipse cx="-14.3" cy="-28.2" rx="10" ry="4" fill="#e4e5f0"/>
<ellipse cx="-9.3" cy="-27.2" rx="4" ry="3" fill="#d7d8ea"/>
<ellipse cx="-18.3" cy="-14.2" rx="12" ry="6" fill="#fbe9cf"/>
<ellipse cx="-15.3" cy="15.8" rx="14" ry="14" fill="#faeedf"/>
<path d="M-65.3 -52.2L59.7 -52.2" fill="none" stroke="#faeedf" stroke-width="5" stroke-linecap="round" stroke-linejoin="round"/>
<path d="M-95.3 35.8L-45.3 37.8" fill="none" stroke="#f9f1e6" stroke-width="6" stroke-linecap="round" stroke-linejoin="round"/>
<ellipse cx="9.7" cy="-25.7" rx="10" ry="3" fill="#e08214"/>
<ellipse cx="39.7" cy="2.8" rx="20" ry="15" fill="#ebecf3"/>
<path d="M-5.3 25.8L64.7 25.8" fill="none" stroke="#f9f1e6" stroke-width="7" stroke-linecap="round" stroke-linejoin="round"/>
<ellipse cx="-29" cy="-47" rx="4" ry="5" fill="#f7f7f6"/>
</g>
<use href="#nod" fill="#fff"/>
<use href="#land" fill="#d3d3d3" stroke="#111" stroke-width="0.45" stroke-linejoin="round"/>
<use href="#bsea" fill="#ffffff" stroke="#111" stroke-width="0.45"/>
<use href="#casp" fill="#ffffff" stroke="#111" stroke-width="0.45"/>
<use href="#grd" fill="none" stroke="#999" stroke-opacity="0.6" stroke-width="0.45"/>
</g>
<use href="#bnd" fill="none" stroke="#3a3a3a" stroke-width="0.6"/>
</g>
<text x="63.4" y="451.6" class="tk" text-anchor="middle">180°</text>
<text x="57" y="567.2" class="tk" text-anchor="middle">180°</text>
<text x="82.3" y="451.6" class="tk" text-anchor="middle">120°W</text>
<text x="78.1" y="567.2" class="tk" text-anchor="middle">120°W</text>
<text x="101.3" y="451.6" class="tk" text-anchor="middle">60°W</text>
<text x="99.2" y="567.2" class="tk" text-anchor="middle">60°W</text>
<text x="120.3" y="451.6" class="tk" text-anchor="middle">0°</text>
<text x="120.3" y="567.2" class="tk" text-anchor="middle">0°</text>
<text x="139.3" y="451.6" class="tk" text-anchor="middle">60°E</text>
<text x="141.4" y="567.2" class="tk" text-anchor="middle">60°E</text>
<text x="158.3" y="451.6" class="tk" text-anchor="middle">120°E</text>
<text x="162.5" y="567.2" class="tk" text-anchor="middle">120°E</text>
<text x="177.2" y="451.6" class="tk" text-anchor="middle">180°</text>
<text x="183.6" y="567.2" class="tk" text-anchor="middle">180°</text>
<text x="34" y="469.8" class="tk" text-anchor="end">60°N</text>
<text x="206.6" y="469.8" class="tk" text-anchor="start">60°N</text>
<text x="15.4" y="489.9" class="tk" text-anchor="end">30°N</text>
<text x="225.2" y="489.9" class="tk" text-anchor="start">30°N</text>
<text x="11.1" y="510.6" class="tk" text-anchor="end">0°</text>
<text x="229.5" y="510.6" class="tk" text-anchor="start">0°</text>
<text x="15.4" y="531.3" class="tk" text-anchor="end">30°S</text>
<text x="225.2" y="531.3" class="tk" text-anchor="start">30°S</text>
<text x="34" y="551.4" class="tk" text-anchor="end">60°S</text>
<text x="206.6" y="551.4" class="tk" text-anchor="start">60°S</text>
<text x="76.4" y="446.9" class="tt">LR</text>
<text x="94.6" y="446.9" class="tt">bias=0.021, rmsd=0.03</text>
<text x="17.3" y="459.9" class="lt">g</text>
<g transform="translate(351.1 509.2)">
<use href="#bnd" fill="#f7f5f2"/>
<g clip-path="url(#clp)">
<g filter="url(#bl)">
<ellipse cx="-16.1" cy="-38.2" rx="12" ry="6" fill="#fbe9cf"/>
<ellipse cx="-13.1" cy="-28.2" rx="10" ry="4" fill="#e4e5f0"/>
<ellipse cx="-9.1" cy="-27.2" rx="4" ry="3" fill="#d9dbeb"/>
<ellipse cx="-21.1" cy="-16.2" rx="12" ry="4" fill="#fde4c0"/>
<ellipse cx="-16.1" cy="15.8" rx="14" ry="14" fill="#f9f0e4"/>
<path d="M-66.1 -52.2L59.9 -52.2" fill="none" stroke="#f9f1e6" stroke-width="5" stroke-linecap="round" stroke-linejoin="round"/>
<ellipse cx="43.9" cy="2.8" rx="18" ry="14" fill="#eeeef3"/>
<ellipse cx="-29" cy="-47" rx="4" ry="5" fill="#f7f7f6"/>
</g>
<use href="#nod" fill="#fff"/>
<use href="#land" fill="#d3d3d3" stroke="#111" stroke-width="0.45" stroke-linejoin="round"/>
<use href="#bsea" fill="#e08214" stroke="#111" stroke-width="0.45"/>
<use href="#casp" fill="#ffffff" stroke="#111" stroke-width="0.45"/>
<use href="#grd" fill="none" stroke="#999" stroke-opacity="0.6" stroke-width="0.45"/>
</g>
<use href="#bnd" fill="none" stroke="#3a3a3a" stroke-width="0.6"/>
</g>
<text x="294.2" y="451.6" class="tk" text-anchor="middle">180°</text>
<text x="287.8" y="567.2" class="tk" text-anchor="middle">180°</text>
<text x="313.1" y="451.6" class="tk" text-anchor="middle">120°W</text>
<text x="308.9" y="567.2" class="tk" text-anchor="middle">120°W</text>
<text x="332.1" y="451.6" class="tk" text-anchor="middle">60°W</text>
<text x="330" y="567.2" class="tk" text-anchor="middle">60°W</text>
<text x="351.1" y="451.6" class="tk" text-anchor="middle">0°</text>
<text x="351.1" y="567.2" class="tk" text-anchor="middle">0°</text>
<text x="370.1" y="451.6" class="tk" text-anchor="middle">60°E</text>
<text x="372.2" y="567.2" class="tk" text-anchor="middle">60°E</text>
<text x="389.1" y="451.6" class="tk" text-anchor="middle">120°E</text>
<text x="393.3" y="567.2" class="tk" text-anchor="middle">120°E</text>
<text x="408" y="451.6" class="tk" text-anchor="middle">180°</text>
<text x="414.4" y="567.2" class="tk" text-anchor="middle">180°</text>
<text x="264.8" y="469.8" class="tk" text-anchor="end">60°N</text>
<text x="437.4" y="469.8" class="tk" text-anchor="start">60°N</text>
<text x="246.2" y="489.9" class="tk" text-anchor="end">30°N</text>
<text x="456" y="489.9" class="tk" text-anchor="start">30°N</text>
<text x="241.9" y="510.6" class="tk" text-anchor="end">0°</text>
<text x="460.3" y="510.6" class="tk" text-anchor="start">0°</text>
<text x="246.2" y="531.3" class="tk" text-anchor="end">30°S</text>
<text x="456" y="531.3" class="tk" text-anchor="start">30°S</text>
<text x="264.8" y="551.4" class="tk" text-anchor="end">60°S</text>
<text x="437.4" y="551.4" class="tk" text-anchor="start">60°S</text>
<text x="303.8" y="446.9" class="tt">MR</text>
<text x="324.5" y="446.9" class="tt">bias=0.044, rmsd=0.016</text>
<text x="248.1" y="459.9" class="lt">h</text>
<linearGradient id="cg0" x1="0" y1="0" x2="0" y2="1"><stop offset="0.000" stop-color="#67001f"/><stop offset="0.050" stop-color="#8a0b25"/><stop offset="0.100" stop-color="#b1182b"/><stop offset="0.150" stop-color="#c43b3c"/><stop offset="0.200" stop-color="#d6604d"/><stop offset="0.250" stop-color="#e48066"/><stop offset="0.300" stop-color="#f3a481"/><stop offset="0.350" stop-color="#f8bfa4"/><stop offset="0.400" stop-color="#fddbc7"/><stop offset="0.450" stop-color="#fae9df"/><stop offset="0.500" stop-color="#f7f6f6"/><stop offset="0.550" stop-color="#e4eef4"/><stop offset="0.600" stop-color="#d1e5f0"/><stop offset="0.650" stop-color="#b1d5e7"/><stop offset="0.700" stop-color="#90c4dd"/><stop offset="0.750" stop-color="#6bacd1"/><stop offset="0.800" stop-color="#4393c3"/><stop offset="0.850" stop-color="#327cb7"/><stop offset="0.900" stop-color="#2065ab"/><stop offset="0.950" stop-color="#124984"/><stop offset="1.000" stop-color="#053061"/></linearGradient>
<rect x="473.4" y="32.6" width="6.6" height="77.7" fill="url(#cg0)"/>
<path d="M473.4 32.9L476.7 28.7L480 32.9Z" fill="#67001f"/>
<path d="M473.4 110L476.7 114.2L480 110Z" fill="#053061"/>
<path d="M480 104.7h1.3" stroke="#222" stroke-width="0.4"/>
<text x="482" y="106.1" class="tk">−6</text>
<path d="M480 93.6h1.3" stroke="#222" stroke-width="0.4"/>
<text x="482" y="95" class="tk">−4</text>
<path d="M480 82.5h1.3" stroke="#222" stroke-width="0.4"/>
<text x="482" y="83.9" class="tk">−2</text>
<path d="M480 71.4h1.3" stroke="#222" stroke-width="0.4"/>
<text x="482" y="72.8" class="tk">0</text>
<path d="M480 60.3h1.3" stroke="#222" stroke-width="0.4"/>
<text x="482" y="61.7" class="tk">2</text>
<path d="M480 49.2h1.3" stroke="#222" stroke-width="0.4"/>
<text x="482" y="50.6" class="tk">4</text>
<path d="M480 38.1h1.3" stroke="#222" stroke-width="0.4"/>
<text x="482" y="39.5" class="tk">6</text>
<text class="cl" text-anchor="middle" transform="translate(493 70.9) rotate(-90)">100m temp vs EN4 (psu)</text>
<linearGradient id="cg1" x1="0" y1="0" x2="0" y2="1"><stop offset="0.000" stop-color="#67001f"/><stop offset="0.050" stop-color="#8a0b25"/><stop offset="0.100" stop-color="#b1182b"/><stop offset="0.150" stop-color="#c43b3c"/><stop offset="0.200" stop-color="#d6604d"/><stop offset="0.250" stop-color="#e48066"/><stop offset="0.300" stop-color="#f3a481"/><stop offset="0.350" stop-color="#f8bfa4"/><stop offset="0.400" stop-color="#fddbc7"/><stop offset="0.450" stop-color="#fae9df"/><stop offset="0.500" stop-color="#f7f6f6"/><stop offset="0.550" stop-color="#e4eef4"/><stop offset="0.600" stop-color="#d1e5f0"/><stop offset="0.650" stop-color="#b1d5e7"/><stop offset="0.700" stop-color="#90c4dd"/><stop offset="0.750" stop-color="#6bacd1"/><stop offset="0.800" stop-color="#4393c3"/><stop offset="0.850" stop-color="#327cb7"/><stop offset="0.900" stop-color="#2065ab"/><stop offset="0.950" stop-color="#124984"/><stop offset="1.000" stop-color="#053061"/></linearGradient>
<rect x="471.9" y="175" width="6.9" height="78.4" fill="url(#cg1)"/>
<path d="M471.9 175.3L475.4 171.1L478.8 175.3Z" fill="#67001f"/>
<path d="M471.9 253.1L475.4 257.3L478.8 253.1Z" fill="#053061"/>
<path d="M478.8 247.8h1.3" stroke="#222" stroke-width="0.4"/>
<text x="480.8" y="249.2" class="tk">−6</text>
<path d="M478.8 236.6h1.3" stroke="#222" stroke-width="0.4"/>
<text x="480.8" y="238" class="tk">−4</text>
<path d="M478.8 225.4h1.3" stroke="#222" stroke-width="0.4"/>
<text x="480.8" y="226.8" class="tk">−2</text>
<path d="M478.8 214.2h1.3" stroke="#222" stroke-width="0.4"/>
<text x="480.8" y="215.6" class="tk">0</text>
<path d="M478.8 203h1.3" stroke="#222" stroke-width="0.4"/>
<text x="480.8" y="204.4" class="tk">2</text>
<path d="M478.8 191.8h1.3" stroke="#222" stroke-width="0.4"/>
<text x="480.8" y="193.2" class="tk">4</text>
<path d="M478.8 180.6h1.3" stroke="#222" stroke-width="0.4"/>
<text x="480.8" y="182" class="tk">6</text>
<text class="cl" text-anchor="middle" transform="translate(492.6 213.2) rotate(-90)">1000m temp vs EN4 (psu)</text>
<linearGradient id="cg2" x1="0" y1="0" x2="0" y2="1"><stop offset="0.000" stop-color="#7f3b08"/><stop offset="0.050" stop-color="#974907"/><stop offset="0.100" stop-color="#b25706"/><stop offset="0.150" stop-color="#c96d0d"/><stop offset="0.200" stop-color="#e08214"/><stop offset="0.250" stop-color="#ee9b39"/><stop offset="0.300" stop-color="#fcb761"/><stop offset="0.350" stop-color="#fdcc8c"/><stop offset="0.400" stop-color="#fee0b6"/><stop offset="0.450" stop-color="#faecd7"/><stop offset="0.500" stop-color="#f7f7f6"/><stop offset="0.550" stop-color="#e8e9f1"/><stop offset="0.600" stop-color="#d8daeb"/><stop offset="0.650" stop-color="#c5c2de"/><stop offset="0.700" stop-color="#b1aad1"/><stop offset="0.750" stop-color="#9990bf"/><stop offset="0.800" stop-color="#8073ac"/><stop offset="0.850" stop-color="#6a4c9a"/><stop offset="0.900" stop-color="#532687"/><stop offset="0.950" stop-color="#3f1268"/><stop offset="1.000" stop-color="#2d004b"/></linearGradient>
<rect x="472" y="323.6" width="7" height="78" fill="url(#cg2)"/>
<path d="M472 323.9L475.5 319.7L479 323.9Z" fill="#7f3b08"/>
<path d="M472 401.3L475.5 405.5L479 401.3Z" fill="#2d004b"/>
<path d="M479 401.6h1.3" stroke="#222" stroke-width="0.4"/>
<text x="481" y="403" class="tk">−3</text>
<path d="M479 388.6h1.3" stroke="#222" stroke-width="0.4"/>
<text x="481" y="390" class="tk">−2</text>
<path d="M479 375.6h1.3" stroke="#222" stroke-width="0.4"/>
<text x="481" y="377" class="tk">−1</text>
<path d="M479 362.6h1.3" stroke="#222" stroke-width="0.4"/>
<text x="481" y="364" class="tk">0</text>
<path d="M479 349.6h1.3" stroke="#222" stroke-width="0.4"/>
<text x="481" y="351" class="tk">1</text>
<path d="M479 336.6h1.3" stroke="#222" stroke-width="0.4"/>
<text x="481" y="338" class="tk">2</text>
<path d="M479 323.6h1.3" stroke="#222" stroke-width="0.4"/>
<text x="481" y="325" class="tk">3</text>
<text class="cl" text-anchor="middle" transform="translate(491.8 361.5) rotate(-90)">100m salt vs EN4 (psu)</text>
<linearGradient id="cg3" x1="0" y1="0" x2="0" y2="1"><stop offset="0.000" stop-color="#7f3b08"/><stop offset="0.050" stop-color="#974907"/><stop offset="0.100" stop-color="#b25706"/><stop offset="0.150" stop-color="#c96d0d"/><stop offset="0.200" stop-color="#e08214"/><stop offset="0.250" stop-color="#ee9b39"/><stop offset="0.300" stop-color="#fcb761"/><stop offset="0.350" stop-color="#fdcc8c"/><stop offset="0.400" stop-color="#fee0b6"/><stop offset="0.450" stop-color="#faecd7"/><stop offset="0.500" stop-color="#f7f7f6"/><stop offset="0.550" stop-color="#e8e9f1"/><stop offset="0.600" stop-color="#d8daeb"/><stop offset="0.650" stop-color="#c5c2de"/><stop offset="0.700" stop-color="#b1aad1"/><stop offset="0.750" stop-color="#9990bf"/><stop offset="0.800" stop-color="#8073ac"/><stop offset="0.850" stop-color="#6a4c9a"/><stop offset="0.900" stop-color="#532687"/><stop offset="0.950" stop-color="#3f1268"/><stop offset="1.000" stop-color="#2d004b"/></linearGradient>
<rect x="474" y="469.5" width="6.7" height="78.3" fill="url(#cg3)"/>
<path d="M474 469.8L477.4 465.6L480.7 469.8Z" fill="#7f3b08"/>
<path d="M474 547.5L477.4 551.6L480.7 547.5Z" fill="#2d004b"/>
<path d="M480.7 547.8h1.3" stroke="#222" stroke-width="0.4"/>
<text x="482.7" y="549.1" class="tk">−3</text>
<path d="M480.7 534.7h1.3" stroke="#222" stroke-width="0.4"/>
<text x="482.7" y="536.1" class="tk">−2</text>
<path d="M480.7 521.6h1.3" stroke="#222" stroke-width="0.4"/>
<text x="482.7" y="523" class="tk">−1</text>
<path d="M480.7 508.6h1.3" stroke="#222" stroke-width="0.4"/>
<text x="482.7" y="510" class="tk">0</text>
<path d="M480.7 495.6h1.3" stroke="#222" stroke-width="0.4"/>
<text x="482.7" y="496.9" class="tk">1</text>
<path d="M480.7 482.5h1.3" stroke="#222" stroke-width="0.4"/>
<text x="482.7" y="483.9" class="tk">2</text>
<path d="M480.7 469.5h1.3" stroke="#222" stroke-width="0.4"/>
<text x="482.7" y="470.9" class="tk">3</text>
<text class="cl" text-anchor="middle" transform="translate(493.8 508) rotate(-90)">1000m salt vs EN4 (psu)</text>
</svg>
</body></html>
